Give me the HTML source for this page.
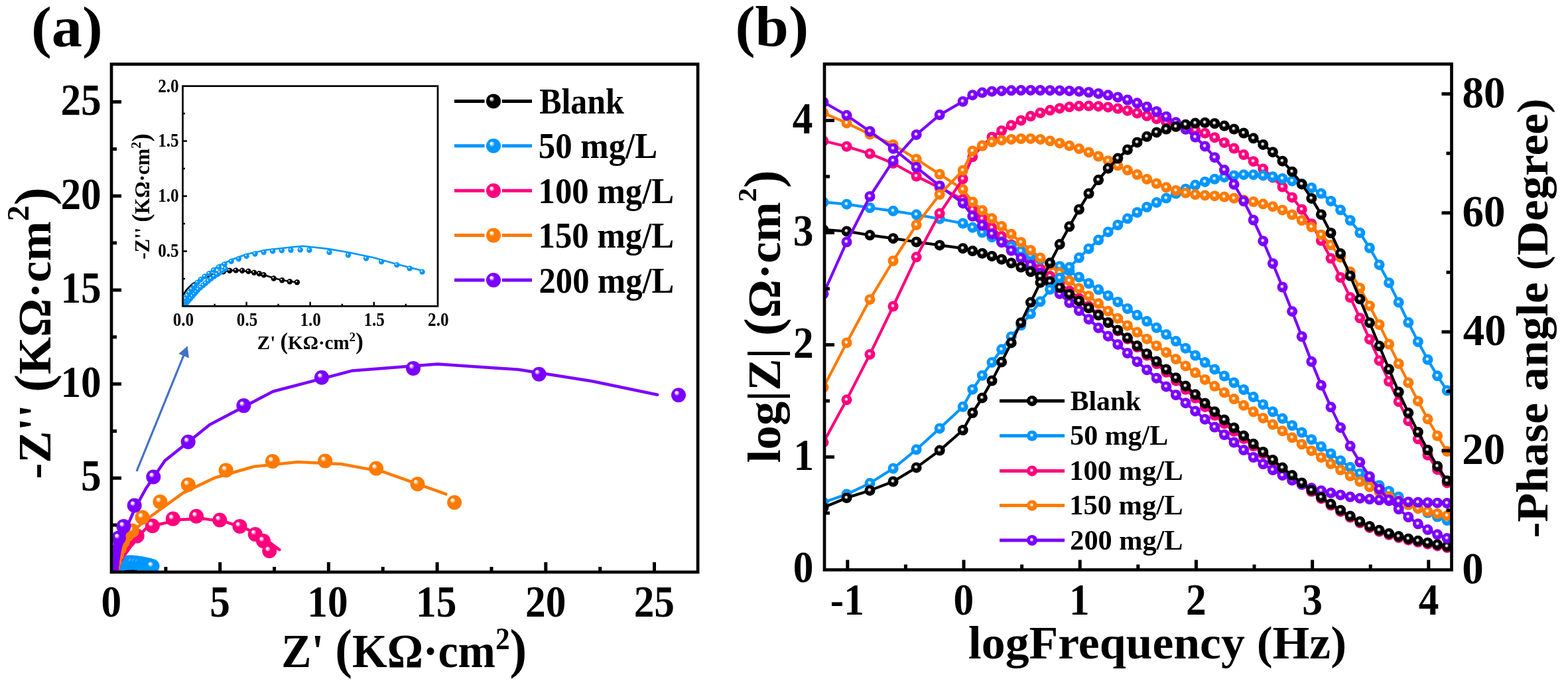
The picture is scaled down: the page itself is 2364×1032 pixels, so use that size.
<!DOCTYPE html>
<html><head><meta charset="utf-8"><title>EIS figure</title>
<style>html,body{margin:0;padding:0;background:#fff;}svg{display:block;filter:blur(0.6px);}</style></head>
<body><svg width="2364" height="1032" viewBox="0 0 2364 1032"><defs><radialGradient id="g_black" cx="0.5" cy="0.5" r="0.5" fx="0.44" fy="0.42"><stop offset="0" stop-color="#fff"/><stop offset="0.14" stop-color="#fff" stop-opacity="0.95"/><stop offset="0.4" stop-color="#000000"/><stop offset="1" stop-color="#000000"/></radialGradient><radialGradient id="ga_black" cx="0.5" cy="0.5" r="0.5" fx="0.33" fy="0.3"><stop offset="0" stop-color="#fff"/><stop offset="0.12" stop-color="#fff" stop-opacity="0.95"/><stop offset="0.38" stop-color="#000000"/><stop offset="1" stop-color="#000000"/></radialGradient><radialGradient id="g_blue" cx="0.5" cy="0.5" r="0.5" fx="0.44" fy="0.42"><stop offset="0" stop-color="#fff"/><stop offset="0.14" stop-color="#fff" stop-opacity="0.95"/><stop offset="0.4" stop-color="#0096FF"/><stop offset="1" stop-color="#0096FF"/></radialGradient><radialGradient id="ga_blue" cx="0.5" cy="0.5" r="0.5" fx="0.33" fy="0.3"><stop offset="0" stop-color="#fff"/><stop offset="0.12" stop-color="#fff" stop-opacity="0.95"/><stop offset="0.38" stop-color="#0096FF"/><stop offset="1" stop-color="#0096FF"/></radialGradient><radialGradient id="g_pink" cx="0.5" cy="0.5" r="0.5" fx="0.44" fy="0.42"><stop offset="0" stop-color="#fff"/><stop offset="0.14" stop-color="#fff" stop-opacity="0.95"/><stop offset="0.4" stop-color="#FF007D"/><stop offset="1" stop-color="#FF007D"/></radialGradient><radialGradient id="ga_pink" cx="0.5" cy="0.5" r="0.5" fx="0.33" fy="0.3"><stop offset="0" stop-color="#fff"/><stop offset="0.12" stop-color="#fff" stop-opacity="0.95"/><stop offset="0.38" stop-color="#FF007D"/><stop offset="1" stop-color="#FF007D"/></radialGradient><radialGradient id="g_orange" cx="0.5" cy="0.5" r="0.5" fx="0.44" fy="0.42"><stop offset="0" stop-color="#fff"/><stop offset="0.14" stop-color="#fff" stop-opacity="0.95"/><stop offset="0.4" stop-color="#FF7A00"/><stop offset="1" stop-color="#FF7A00"/></radialGradient><radialGradient id="ga_orange" cx="0.5" cy="0.5" r="0.5" fx="0.33" fy="0.3"><stop offset="0" stop-color="#fff"/><stop offset="0.12" stop-color="#fff" stop-opacity="0.95"/><stop offset="0.38" stop-color="#FF7A00"/><stop offset="1" stop-color="#FF7A00"/></radialGradient><radialGradient id="g_purple" cx="0.5" cy="0.5" r="0.5" fx="0.44" fy="0.42"><stop offset="0" stop-color="#fff"/><stop offset="0.14" stop-color="#fff" stop-opacity="0.95"/><stop offset="0.4" stop-color="#7B00FF"/><stop offset="1" stop-color="#7B00FF"/></radialGradient><radialGradient id="ga_purple" cx="0.5" cy="0.5" r="0.5" fx="0.33" fy="0.3"><stop offset="0" stop-color="#fff"/><stop offset="0.12" stop-color="#fff" stop-opacity="0.95"/><stop offset="0.38" stop-color="#7B00FF"/><stop offset="1" stop-color="#7B00FF"/></radialGradient></defs><rect width="2364" height="1032" fill="#fff"/><clipPath id="clipa"><rect x="168.0" y="96.7" width="884.0999999999999" height="765.1999999999999"/></clipPath><g clip-path="url(#clipa)"><polyline points="168.0,859.2 169.0,857.7 170.6,856.1 172.9,854.8 175.8,853.9 177.8,853.1 180.0,852.7 181.7,852.6 183.3,852.7 186.3,853.2 188.8,853.8 191.4,854.7 193.5,855.2 195.5,855.5 197.5,855.8" fill="none" stroke="#000000" stroke-width="4.5" stroke-linejoin="round" stroke-linecap="round"/><circle cx="175.8" cy="854.2" r="11" fill="url(#ga_black)"/><circle cx="176.9" cy="853.6" r="11" fill="url(#ga_black)"/><circle cx="178.4" cy="853.0" r="11" fill="url(#ga_black)"/><circle cx="180.0" cy="852.7" r="11" fill="url(#ga_black)"/><circle cx="181.7" cy="852.7" r="11" fill="url(#ga_black)"/><circle cx="183.3" cy="852.7" r="11" fill="url(#ga_black)"/><circle cx="184.9" cy="852.9" r="11" fill="url(#ga_black)"/><circle cx="186.3" cy="853.3" r="11" fill="url(#ga_black)"/><circle cx="187.6" cy="853.5" r="11" fill="url(#ga_black)"/><circle cx="188.8" cy="853.9" r="11" fill="url(#ga_black)"/><circle cx="191.4" cy="854.8" r="11" fill="url(#ga_black)"/><circle cx="193.5" cy="855.2" r="11" fill="url(#ga_black)"/><circle cx="195.5" cy="855.6" r="11" fill="url(#ga_black)"/><circle cx="197.4" cy="855.8" r="11" fill="url(#ga_black)"/><polyline points="168.0,861.9 168.8,860.8 170.0,858.8 171.9,856.2 174.5,853.4 177.3,851.4 181.1,849.7 184.4,848.5 189.3,847.5 196.0,846.7 198.9,846.4 205.3,847.1 210.6,848.0 217.1,849.4 223.0,851.1 229.8,852.8" fill="none" stroke="#0096FF" stroke-width="4.5" stroke-linejoin="round" stroke-linecap="round"/><circle cx="168.3" cy="861.9" r="11" fill="url(#ga_blue)"/><circle cx="168.7" cy="861.5" r="11" fill="url(#ga_blue)"/><circle cx="169.0" cy="861.1" r="11" fill="url(#ga_blue)"/><circle cx="169.5" cy="860.5" r="11" fill="url(#ga_blue)"/><circle cx="170.0" cy="859.9" r="11" fill="url(#ga_blue)"/><circle cx="170.5" cy="859.4" r="11" fill="url(#ga_blue)"/><circle cx="170.9" cy="858.8" r="11" fill="url(#ga_blue)"/><circle cx="171.4" cy="858.2" r="11" fill="url(#ga_blue)"/><circle cx="171.9" cy="857.7" r="11" fill="url(#ga_blue)"/><circle cx="172.6" cy="857.1" r="11" fill="url(#ga_blue)"/><circle cx="173.2" cy="856.5" r="11" fill="url(#ga_blue)"/><circle cx="173.9" cy="856.0" r="11" fill="url(#ga_blue)"/><circle cx="174.5" cy="855.4" r="11" fill="url(#ga_blue)"/><circle cx="175.3" cy="854.8" r="11" fill="url(#ga_blue)"/><circle cx="176.0" cy="854.3" r="11" fill="url(#ga_blue)"/><circle cx="176.7" cy="853.7" r="11" fill="url(#ga_blue)"/><circle cx="177.5" cy="853.3" r="11" fill="url(#ga_blue)"/><circle cx="178.2" cy="852.8" r="11" fill="url(#ga_blue)"/><circle cx="179.0" cy="852.3" r="11" fill="url(#ga_blue)"/><circle cx="168.2" cy="861.3" r="11" fill="url(#ga_blue)"/><circle cx="168.4" cy="860.7" r="11" fill="url(#ga_blue)"/><circle cx="168.7" cy="860.0" r="11" fill="url(#ga_blue)"/><circle cx="169.1" cy="859.2" r="11" fill="url(#ga_blue)"/><circle cx="169.6" cy="858.4" r="11" fill="url(#ga_blue)"/><circle cx="170.2" cy="857.5" r="11" fill="url(#ga_blue)"/><circle cx="170.9" cy="856.7" r="11" fill="url(#ga_blue)"/><circle cx="171.8" cy="855.8" r="11" fill="url(#ga_blue)"/><circle cx="172.6" cy="855.0" r="11" fill="url(#ga_blue)"/><circle cx="173.6" cy="854.3" r="11" fill="url(#ga_blue)"/><circle cx="174.8" cy="853.5" r="11" fill="url(#ga_blue)"/><circle cx="175.9" cy="852.6" r="11" fill="url(#ga_blue)"/><circle cx="177.3" cy="851.8" r="11" fill="url(#ga_blue)"/><circle cx="178.7" cy="851.1" r="11" fill="url(#ga_blue)"/><circle cx="180.5" cy="850.4" r="11" fill="url(#ga_blue)"/><circle cx="182.4" cy="849.7" r="11" fill="url(#ga_blue)"/><circle cx="184.4" cy="849.0" r="11" fill="url(#ga_blue)"/><circle cx="186.6" cy="848.4" r="11" fill="url(#ga_blue)"/><circle cx="188.8" cy="848.0" r="11" fill="url(#ga_blue)"/><circle cx="191.1" cy="847.7" r="11" fill="url(#ga_blue)"/><circle cx="193.4" cy="847.6" r="11" fill="url(#ga_blue)"/><circle cx="195.8" cy="847.5" r="11" fill="url(#ga_blue)"/><circle cx="198.2" cy="847.4" r="11" fill="url(#ga_blue)"/><circle cx="200.5" cy="847.5" r="11" fill="url(#ga_blue)"/><circle cx="205.7" cy="848.0" r="11" fill="url(#ga_blue)"/><circle cx="210.5" cy="848.7" r="11" fill="url(#ga_blue)"/><circle cx="215.1" cy="849.6" r="11" fill="url(#ga_blue)"/><circle cx="219.0" cy="850.5" r="11" fill="url(#ga_blue)"/><circle cx="223.0" cy="851.3" r="11" fill="url(#ga_blue)"/><circle cx="226.3" cy="852.2" r="11" fill="url(#ga_blue)"/><circle cx="229.5" cy="853.1" r="11" fill="url(#ga_blue)"/><polyline points="176.0,862.0 180.0,848.0 186.0,838.0 191.2,831.7 204.0,813.0 220.2,796.0 240.6,789.7 273.4,782.8 308.6,781.6 341.4,786.6 374.1,797.9 399.3,811.8 421.3,828.2" fill="none" stroke="#FF007D" stroke-width="4.5" stroke-linejoin="round" stroke-linecap="round"/><circle cx="169.5" cy="858.0" r="11" fill="url(#ga_pink)"/><circle cx="172.0" cy="848.0" r="11" fill="url(#ga_pink)"/><circle cx="176.0" cy="839.0" r="11" fill="url(#ga_pink)"/><circle cx="181.0" cy="830.0" r="11" fill="url(#ga_pink)"/><circle cx="187.0" cy="822.0" r="11" fill="url(#ga_pink)"/><circle cx="194.0" cy="814.0" r="11" fill="url(#ga_pink)"/><circle cx="206.6" cy="807.4" r="11" fill="url(#ga_pink)"/><circle cx="229.9" cy="792.3" r="11" fill="url(#ga_pink)"/><circle cx="260.8" cy="781.6" r="11" fill="url(#ga_pink)"/><circle cx="296.0" cy="777.8" r="11" fill="url(#ga_pink)"/><circle cx="331.3" cy="783.5" r="11" fill="url(#ga_pink)"/><circle cx="361.5" cy="792.9" r="11" fill="url(#ga_pink)"/><circle cx="384.8" cy="804.9" r="11" fill="url(#ga_pink)"/><circle cx="397.0" cy="815.0" r="11" fill="url(#ga_pink)"/><circle cx="406.2" cy="830.0" r="11" fill="url(#ga_pink)"/><polyline points="176.0,862.0 180.0,845.0 184.0,830.0 188.0,818.0 200.0,800.0 226.9,778.2 276.0,742.6 323.3,720.0 382.6,703.0 448.8,696.0 514.0,699.0 578.0,710.9 672.3,744.4" fill="none" stroke="#FF7A00" stroke-width="4.5" stroke-linejoin="round" stroke-linecap="round"/><circle cx="170.0" cy="856.0" r="11" fill="url(#ga_orange)"/><circle cx="172.5" cy="846.0" r="11" fill="url(#ga_orange)"/><circle cx="176.0" cy="836.0" r="11" fill="url(#ga_orange)"/><circle cx="180.0" cy="826.0" r="11" fill="url(#ga_orange)"/><circle cx="185.0" cy="816.0" r="11" fill="url(#ga_orange)"/><circle cx="191.0" cy="806.0" r="11" fill="url(#ga_orange)"/><circle cx="199.0" cy="799.4" r="11" fill="url(#ga_orange)"/><circle cx="214.6" cy="779.4" r="11" fill="url(#ga_orange)"/><circle cx="241.4" cy="756.0" r="11" fill="url(#ga_orange)"/><circle cx="283.7" cy="730.3" r="11" fill="url(#ga_orange)"/><circle cx="340.7" cy="708.4" r="11" fill="url(#ga_orange)"/><circle cx="410.9" cy="694.9" r="11" fill="url(#ga_orange)"/><circle cx="490.2" cy="694.4" r="11" fill="url(#ga_orange)"/><circle cx="567.1" cy="705.8" r="11" fill="url(#ga_orange)"/><circle cx="629.5" cy="729.2" r="11" fill="url(#ga_orange)"/><circle cx="685.1" cy="757.0" r="11" fill="url(#ga_orange)"/><polyline points="176.0,862.0 178.0,845.0 181.0,828.0 186.0,810.0 193.0,790.0 204.0,765.0 220.0,736.0 248.6,694.0 283.7,666.0 316.3,639.8 411.6,589.8 531.4,558.4 659.5,548.4 781.7,556.7 892.5,574.3 991.2,594.7" fill="none" stroke="#7B00FF" stroke-width="4.5" stroke-linejoin="round" stroke-linecap="round"/><circle cx="168.5" cy="858.0" r="11" fill="url(#ga_purple)"/><circle cx="169.0" cy="849.0" r="11" fill="url(#ga_purple)"/><circle cx="169.5" cy="840.0" r="11" fill="url(#ga_purple)"/><circle cx="170.0" cy="831.0" r="11" fill="url(#ga_purple)"/><circle cx="170.5" cy="822.0" r="11" fill="url(#ga_purple)"/><circle cx="178.9" cy="810.5" r="11" fill="url(#ga_purple)"/><circle cx="186.4" cy="792.9" r="11" fill="url(#ga_purple)"/><circle cx="202.7" cy="761.5" r="11" fill="url(#ga_purple)"/><circle cx="231.3" cy="718.5" r="11" fill="url(#ga_purple)"/><circle cx="283.7" cy="665.7" r="11" fill="url(#ga_purple)"/><circle cx="367.4" cy="611.1" r="11" fill="url(#ga_purple)"/><circle cx="485.0" cy="568.8" r="11" fill="url(#ga_purple)"/><circle cx="623.0" cy="554.9" r="11" fill="url(#ga_purple)"/><circle cx="812.6" cy="563.7" r="11" fill="url(#ga_purple)"/><circle cx="1023.0" cy="595.2" r="11" fill="url(#ga_purple)"/></g><rect x="168.0" y="96.7" width="884.0999999999999" height="765.1999999999999" fill="none" stroke="#000" stroke-width="4.7"/><path d="M249.9,861.9 V853.9 M331.7,861.9 V846.9 M413.6,861.9 V853.9 M495.4,861.9 V846.9 M577.2,861.9 V853.9 M659.1,861.9 V846.9 M741.0,861.9 V853.9 M822.8,861.9 V846.9 M904.7,861.9 V853.9 M986.5,861.9 V846.9 M168.0,791.1 H176.0 M168.0,720.2 H183.0 M168.0,649.4 H176.0 M168.0,578.6 H183.0 M168.0,507.8 H176.0 M168.0,436.9 H183.0 M168.0,366.1 H176.0 M168.0,295.3 H183.0 M168.0,224.5 H176.0 M168.0,153.6 H183.0" stroke="#000" stroke-width="5" fill="none"/><line x1="206" y1="710" x2="278.5" y2="531.5" stroke="#4472C4" stroke-width="3.2"/><polygon points="282.7,521.3 269.3,533 284.9,539.4" fill="#4472C4"/><line x1="685" y1="152.4" x2="730.5" y2="152.4" stroke="#000000" stroke-width="5"/><line x1="757" y1="152.4" x2="802" y2="152.4" stroke="#000000" stroke-width="5"/><circle cx="744.0" cy="152.4" r="11" fill="url(#ga_black)"/><line x1="685" y1="219.8" x2="730.5" y2="219.8" stroke="#0096FF" stroke-width="5"/><line x1="757" y1="219.8" x2="802" y2="219.8" stroke="#0096FF" stroke-width="5"/><circle cx="744.0" cy="219.8" r="11" fill="url(#ga_blue)"/><line x1="685" y1="287.2" x2="730.5" y2="287.2" stroke="#FF007D" stroke-width="5"/><line x1="757" y1="287.2" x2="802" y2="287.2" stroke="#FF007D" stroke-width="5"/><circle cx="744.0" cy="287.2" r="11" fill="url(#ga_pink)"/><line x1="685" y1="354.6" x2="730.5" y2="354.6" stroke="#FF7A00" stroke-width="5"/><line x1="757" y1="354.6" x2="802" y2="354.6" stroke="#FF7A00" stroke-width="5"/><circle cx="744.0" cy="354.6" r="11" fill="url(#ga_orange)"/><line x1="685" y1="422.0" x2="730.5" y2="422.0" stroke="#7B00FF" stroke-width="5"/><line x1="757" y1="422.0" x2="802" y2="422.0" stroke="#7B00FF" stroke-width="5"/><circle cx="744.0" cy="422.0" r="11" fill="url(#ga_purple)"/><rect x="275.5" y="129.7" width="384.5" height="331.6" fill="#fff"/><clipPath id="clipi"><rect x="275.5" y="129.7" width="384.5" height="331.6"/></clipPath><g clip-path="url(#clipi)"><polyline points="275.5,445.5 281.3,436.4 290.9,427.3 304.3,419.9 321.1,414.4 333.2,409.9 346.2,407.7 355.6,407.1 365.1,407.7 383.1,410.6 397.7,414.0 412.7,419.0 425.2,422.0 436.8,424.0 448.5,425.3" fill="none" stroke="#000000" stroke-width="2.6" stroke-linejoin="round" stroke-linecap="round"/><circle cx="321.1" cy="416.0" r="4.2" fill="url(#ga_black)"/><circle cx="328.0" cy="412.7" r="4.2" fill="url(#ga_black)"/><circle cx="336.6" cy="409.4" r="4.2" fill="url(#ga_black)"/><circle cx="346.2" cy="407.7" r="4.2" fill="url(#ga_black)"/><circle cx="355.6" cy="407.4" r="4.2" fill="url(#ga_black)"/><circle cx="365.1" cy="407.7" r="4.2" fill="url(#ga_black)"/><circle cx="374.5" cy="408.7" r="4.2" fill="url(#ga_black)"/><circle cx="383.1" cy="410.7" r="4.2" fill="url(#ga_black)"/><circle cx="390.8" cy="412.2" r="4.2" fill="url(#ga_black)"/><circle cx="397.7" cy="414.2" r="4.2" fill="url(#ga_black)"/><circle cx="412.7" cy="419.5" r="4.2" fill="url(#ga_black)"/><circle cx="425.2" cy="422.3" r="4.2" fill="url(#ga_black)"/><circle cx="436.8" cy="424.3" r="4.2" fill="url(#ga_black)"/><circle cx="447.9" cy="425.3" r="4.2" fill="url(#ga_black)"/><polyline points="275.5,461.3 279.9,455.0 287.0,443.1 298.6,428.1 313.9,411.6 330.1,400.0 352.4,390.0 371.6,383.0 400.4,376.7 440.0,372.3 456.9,370.8 494.2,374.9 525.4,380.2 563.8,388.3 598.2,398.1 638.6,408.2" fill="none" stroke="#0096FF" stroke-width="2.6" stroke-linejoin="round" stroke-linecap="round"/><circle cx="277.4" cy="461.3" r="4.2" fill="url(#ga_blue)"/><circle cx="279.3" cy="458.8" r="4.2" fill="url(#ga_blue)"/><circle cx="281.3" cy="456.3" r="4.2" fill="url(#ga_blue)"/><circle cx="284.1" cy="453.0" r="4.2" fill="url(#ga_blue)"/><circle cx="287.0" cy="449.7" r="4.2" fill="url(#ga_blue)"/><circle cx="289.9" cy="446.4" r="4.2" fill="url(#ga_blue)"/><circle cx="292.8" cy="443.1" r="4.2" fill="url(#ga_blue)"/><circle cx="295.7" cy="439.7" r="4.2" fill="url(#ga_blue)"/><circle cx="298.6" cy="436.4" r="4.2" fill="url(#ga_blue)"/><circle cx="302.4" cy="433.1" r="4.2" fill="url(#ga_blue)"/><circle cx="306.3" cy="429.8" r="4.2" fill="url(#ga_blue)"/><circle cx="310.1" cy="426.5" r="4.2" fill="url(#ga_blue)"/><circle cx="313.9" cy="423.2" r="4.2" fill="url(#ga_blue)"/><circle cx="318.2" cy="419.9" r="4.2" fill="url(#ga_blue)"/><circle cx="322.6" cy="416.5" r="4.2" fill="url(#ga_blue)"/><circle cx="326.8" cy="413.5" r="4.2" fill="url(#ga_blue)"/><circle cx="331.2" cy="410.7" r="4.2" fill="url(#ga_blue)"/><circle cx="335.5" cy="407.9" r="4.2" fill="url(#ga_blue)"/><circle cx="339.9" cy="404.9" r="4.2" fill="url(#ga_blue)"/><circle cx="276.7" cy="458.0" r="4.2" fill="url(#ga_blue)"/><circle cx="277.8" cy="454.3" r="4.2" fill="url(#ga_blue)"/><circle cx="279.7" cy="450.0" r="4.2" fill="url(#ga_blue)"/><circle cx="282.2" cy="445.5" r="4.2" fill="url(#ga_blue)"/><circle cx="285.1" cy="440.6" r="4.2" fill="url(#ga_blue)"/><circle cx="288.6" cy="435.6" r="4.2" fill="url(#ga_blue)"/><circle cx="292.8" cy="430.6" r="4.2" fill="url(#ga_blue)"/><circle cx="297.6" cy="425.7" r="4.2" fill="url(#ga_blue)"/><circle cx="302.8" cy="421.0" r="4.2" fill="url(#ga_blue)"/><circle cx="308.6" cy="416.5" r="4.2" fill="url(#ga_blue)"/><circle cx="315.3" cy="412.1" r="4.2" fill="url(#ga_blue)"/><circle cx="322.0" cy="406.9" r="4.2" fill="url(#ga_blue)"/><circle cx="329.9" cy="402.4" r="4.2" fill="url(#ga_blue)"/><circle cx="338.5" cy="398.1" r="4.2" fill="url(#ga_blue)"/><circle cx="348.7" cy="393.8" r="4.2" fill="url(#ga_blue)"/><circle cx="359.9" cy="390.0" r="4.2" fill="url(#ga_blue)"/><circle cx="371.6" cy="385.9" r="4.2" fill="url(#ga_blue)"/><circle cx="384.5" cy="382.5" r="4.2" fill="url(#ga_blue)"/><circle cx="397.7" cy="380.1" r="4.2" fill="url(#ga_blue)"/><circle cx="411.2" cy="378.4" r="4.2" fill="url(#ga_blue)"/><circle cx="424.8" cy="377.4" r="4.2" fill="url(#ga_blue)"/><circle cx="438.5" cy="376.7" r="4.2" fill="url(#ga_blue)"/><circle cx="452.7" cy="376.4" r="4.2" fill="url(#ga_blue)"/><circle cx="466.4" cy="376.7" r="4.2" fill="url(#ga_blue)"/><circle cx="496.5" cy="380.1" r="4.2" fill="url(#ga_blue)"/><circle cx="525.0" cy="384.2" r="4.2" fill="url(#ga_blue)"/><circle cx="552.1" cy="389.3" r="4.2" fill="url(#ga_blue)"/><circle cx="575.1" cy="394.3" r="4.2" fill="url(#ga_blue)"/><circle cx="598.2" cy="399.1" r="4.2" fill="url(#ga_blue)"/><circle cx="617.6" cy="404.4" r="4.2" fill="url(#ga_blue)"/><circle cx="636.6" cy="409.6" r="4.2" fill="url(#ga_blue)"/></g><rect x="275.5" y="129.7" width="384.5" height="331.6" fill="none" stroke="#000" stroke-width="2.7"/><path d="M323.6,461.3 V457.8 M275.5,419.9 H279.0 M371.6,461.3 V454.8 M275.5,378.4 H282.0 M419.6,461.3 V457.8 M275.5,336.9 H279.0 M467.7,461.3 V454.8 M275.5,295.5 H282.0 M515.8,461.3 V457.8 M275.5,254.1 H279.0 M563.8,461.3 V454.8 M275.5,212.6 H282.0 M611.8,461.3 V457.8 M275.5,171.1 H279.0" stroke="#000" stroke-width="2.5" fill="none"/><clipPath id="clipb"><rect x="1243.0" y="96.5" width="945.5" height="762.0"/></clipPath><g clip-path="url(#clipb)"><polyline points="1241.5,212.3 1276.5,220.7 1311.5,231.6 1346.6,246.0 1381.6,265.5 1416.7,282.8 1451.7,300.1 1466.3,315.8 1480.9,329.5 1495.5,343.1 1510.1,356.1 1524.7,368.7 1539.3,381.2 1553.9,393.4 1568.5,404.9 1583.1,416.1 1597.7,427.2 1612.3,438.2 1626.9,449.5 1641.5,461.3 1656.1,473.7 1670.7,486.2 1685.3,498.5 1699.9,510.7 1714.5,523.1 1729.1,535.6 1743.7,548.1 1758.3,560.8 1772.9,573.7 1787.5,586.8 1802.1,599.8 1816.7,612.9 1831.3,625.8 1845.9,638.2 1860.5,649.8 1875.1,660.9 1889.7,672.1 1904.3,683.6 1918.9,695.2 1933.5,706.7 1948.1,718.1 1962.7,729.4 1977.3,740.5 1991.9,751.2 2006.5,761.3 2021.1,770.7 2035.7,779.6 2050.3,787.8 2064.9,794.9 2079.5,800.8 2094.1,805.8 2108.7,810.1 2123.3,813.7 2137.9,816.8 2152.5,819.7 2167.1,822.4 2181.7,825.1" fill="none" stroke="#FF007D" stroke-width="4.2" stroke-linejoin="round" stroke-linecap="round"/><circle cx="1241.5" cy="212.3" r="8" fill="url(#g_pink)"/><circle cx="1276.5" cy="220.7" r="8" fill="url(#g_pink)"/><circle cx="1311.5" cy="231.6" r="8" fill="url(#g_pink)"/><circle cx="1346.6" cy="246.0" r="8" fill="url(#g_pink)"/><circle cx="1381.6" cy="265.5" r="8" fill="url(#g_pink)"/><circle cx="1416.7" cy="282.8" r="8" fill="url(#g_pink)"/><circle cx="1451.7" cy="300.1" r="8" fill="url(#g_pink)"/><circle cx="1466.3" cy="315.8" r="8" fill="url(#g_pink)"/><circle cx="1480.9" cy="329.5" r="8" fill="url(#g_pink)"/><circle cx="1495.5" cy="343.1" r="8" fill="url(#g_pink)"/><circle cx="1510.1" cy="356.1" r="8" fill="url(#g_pink)"/><circle cx="1524.7" cy="368.7" r="8" fill="url(#g_pink)"/><circle cx="1539.3" cy="381.2" r="8" fill="url(#g_pink)"/><circle cx="1553.9" cy="393.4" r="8" fill="url(#g_pink)"/><circle cx="1568.5" cy="404.9" r="8" fill="url(#g_pink)"/><circle cx="1583.1" cy="416.1" r="8" fill="url(#g_pink)"/><circle cx="1597.7" cy="427.2" r="8" fill="url(#g_pink)"/><circle cx="1612.3" cy="438.2" r="8" fill="url(#g_pink)"/><circle cx="1626.9" cy="449.5" r="8" fill="url(#g_pink)"/><circle cx="1641.5" cy="461.3" r="8" fill="url(#g_pink)"/><circle cx="1656.1" cy="473.7" r="8" fill="url(#g_pink)"/><circle cx="1670.7" cy="486.2" r="8" fill="url(#g_pink)"/><circle cx="1685.3" cy="498.5" r="8" fill="url(#g_pink)"/><circle cx="1699.9" cy="510.7" r="8" fill="url(#g_pink)"/><circle cx="1714.5" cy="523.1" r="8" fill="url(#g_pink)"/><circle cx="1729.1" cy="535.6" r="8" fill="url(#g_pink)"/><circle cx="1743.7" cy="548.1" r="8" fill="url(#g_pink)"/><circle cx="1758.3" cy="560.8" r="8" fill="url(#g_pink)"/><circle cx="1772.9" cy="573.7" r="8" fill="url(#g_pink)"/><circle cx="1787.5" cy="586.8" r="8" fill="url(#g_pink)"/><circle cx="1802.1" cy="599.8" r="8" fill="url(#g_pink)"/><circle cx="1816.7" cy="612.9" r="8" fill="url(#g_pink)"/><circle cx="1831.3" cy="625.8" r="8" fill="url(#g_pink)"/><circle cx="1845.9" cy="638.2" r="8" fill="url(#g_pink)"/><circle cx="1860.5" cy="649.8" r="8" fill="url(#g_pink)"/><circle cx="1875.1" cy="660.9" r="8" fill="url(#g_pink)"/><circle cx="1889.7" cy="672.1" r="8" fill="url(#g_pink)"/><circle cx="1904.3" cy="683.6" r="8" fill="url(#g_pink)"/><circle cx="1918.9" cy="695.2" r="8" fill="url(#g_pink)"/><circle cx="1933.5" cy="706.7" r="8" fill="url(#g_pink)"/><circle cx="1948.1" cy="718.1" r="8" fill="url(#g_pink)"/><circle cx="1962.7" cy="729.4" r="8" fill="url(#g_pink)"/><circle cx="1977.3" cy="740.5" r="8" fill="url(#g_pink)"/><circle cx="1991.9" cy="751.2" r="8" fill="url(#g_pink)"/><circle cx="2006.5" cy="761.3" r="8" fill="url(#g_pink)"/><circle cx="2021.1" cy="770.7" r="8" fill="url(#g_pink)"/><circle cx="2035.7" cy="779.6" r="8" fill="url(#g_pink)"/><circle cx="2050.3" cy="787.8" r="8" fill="url(#g_pink)"/><circle cx="2064.9" cy="794.9" r="8" fill="url(#g_pink)"/><circle cx="2079.5" cy="800.8" r="8" fill="url(#g_pink)"/><circle cx="2094.1" cy="805.8" r="8" fill="url(#g_pink)"/><circle cx="2108.7" cy="810.1" r="8" fill="url(#g_pink)"/><circle cx="2123.3" cy="813.7" r="8" fill="url(#g_pink)"/><circle cx="2137.9" cy="816.8" r="8" fill="url(#g_pink)"/><circle cx="2152.5" cy="819.7" r="8" fill="url(#g_pink)"/><circle cx="2167.1" cy="822.4" r="8" fill="url(#g_pink)"/><circle cx="2181.7" cy="825.1" r="8" fill="url(#g_pink)"/><polyline points="1241.5,304.6 1276.5,307.7 1311.5,313.0 1346.6,317.8 1381.6,323.3 1416.7,329.7 1451.7,336.5 1466.3,342.8 1480.9,350.3 1495.5,357.3 1510.1,364.2 1524.7,371.1 1539.3,378.2 1553.9,385.0 1568.5,391.1 1583.1,396.1 1597.7,401.2 1612.3,408.3 1626.9,417.4 1641.5,427.0 1656.1,436.3 1670.7,445.4 1685.3,454.9 1699.9,465.0 1714.5,474.8 1729.1,484.1 1743.7,493.8 1758.3,503.9 1772.9,514.1 1787.5,524.7 1802.1,535.5 1816.7,546.1 1831.3,556.4 1845.9,566.5 1860.5,576.5 1875.1,587.0 1889.7,598.1 1904.3,609.4 1918.9,620.3 1933.5,630.6 1948.1,641.0 1962.7,651.6 1977.3,662.2 1991.9,672.8 2006.5,683.5 2021.1,694.1 2035.7,704.1 2050.3,713.4 2064.9,722.4 2079.5,731.2 2094.1,740.0 2108.7,748.5 2123.3,757.2 2137.9,765.5 2152.5,772.6 2167.1,778.6 2181.7,784.0" fill="none" stroke="#0096FF" stroke-width="4.2" stroke-linejoin="round" stroke-linecap="round"/><circle cx="1241.5" cy="304.6" r="8" fill="url(#g_blue)"/><circle cx="1276.5" cy="307.7" r="8" fill="url(#g_blue)"/><circle cx="1311.5" cy="313.0" r="8" fill="url(#g_blue)"/><circle cx="1346.6" cy="317.8" r="8" fill="url(#g_blue)"/><circle cx="1381.6" cy="323.3" r="8" fill="url(#g_blue)"/><circle cx="1416.7" cy="329.7" r="8" fill="url(#g_blue)"/><circle cx="1451.7" cy="336.5" r="8" fill="url(#g_blue)"/><circle cx="1466.3" cy="342.8" r="8" fill="url(#g_blue)"/><circle cx="1480.9" cy="350.3" r="8" fill="url(#g_blue)"/><circle cx="1495.5" cy="357.3" r="8" fill="url(#g_blue)"/><circle cx="1510.1" cy="364.2" r="8" fill="url(#g_blue)"/><circle cx="1524.7" cy="371.1" r="8" fill="url(#g_blue)"/><circle cx="1539.3" cy="378.2" r="8" fill="url(#g_blue)"/><circle cx="1553.9" cy="385.0" r="8" fill="url(#g_blue)"/><circle cx="1568.5" cy="391.1" r="8" fill="url(#g_blue)"/><circle cx="1583.1" cy="396.1" r="8" fill="url(#g_blue)"/><circle cx="1597.7" cy="401.2" r="8" fill="url(#g_blue)"/><circle cx="1612.3" cy="408.3" r="8" fill="url(#g_blue)"/><circle cx="1626.9" cy="417.4" r="8" fill="url(#g_blue)"/><circle cx="1641.5" cy="427.0" r="8" fill="url(#g_blue)"/><circle cx="1656.1" cy="436.3" r="8" fill="url(#g_blue)"/><circle cx="1670.7" cy="445.4" r="8" fill="url(#g_blue)"/><circle cx="1685.3" cy="454.9" r="8" fill="url(#g_blue)"/><circle cx="1699.9" cy="465.0" r="8" fill="url(#g_blue)"/><circle cx="1714.5" cy="474.8" r="8" fill="url(#g_blue)"/><circle cx="1729.1" cy="484.1" r="8" fill="url(#g_blue)"/><circle cx="1743.7" cy="493.8" r="8" fill="url(#g_blue)"/><circle cx="1758.3" cy="503.9" r="8" fill="url(#g_blue)"/><circle cx="1772.9" cy="514.1" r="8" fill="url(#g_blue)"/><circle cx="1787.5" cy="524.7" r="8" fill="url(#g_blue)"/><circle cx="1802.1" cy="535.5" r="8" fill="url(#g_blue)"/><circle cx="1816.7" cy="546.1" r="8" fill="url(#g_blue)"/><circle cx="1831.3" cy="556.4" r="8" fill="url(#g_blue)"/><circle cx="1845.9" cy="566.5" r="8" fill="url(#g_blue)"/><circle cx="1860.5" cy="576.5" r="8" fill="url(#g_blue)"/><circle cx="1875.1" cy="587.0" r="8" fill="url(#g_blue)"/><circle cx="1889.7" cy="598.1" r="8" fill="url(#g_blue)"/><circle cx="1904.3" cy="609.4" r="8" fill="url(#g_blue)"/><circle cx="1918.9" cy="620.3" r="8" fill="url(#g_blue)"/><circle cx="1933.5" cy="630.6" r="8" fill="url(#g_blue)"/><circle cx="1948.1" cy="641.0" r="8" fill="url(#g_blue)"/><circle cx="1962.7" cy="651.6" r="8" fill="url(#g_blue)"/><circle cx="1977.3" cy="662.2" r="8" fill="url(#g_blue)"/><circle cx="1991.9" cy="672.8" r="8" fill="url(#g_blue)"/><circle cx="2006.5" cy="683.5" r="8" fill="url(#g_blue)"/><circle cx="2021.1" cy="694.1" r="8" fill="url(#g_blue)"/><circle cx="2035.7" cy="704.1" r="8" fill="url(#g_blue)"/><circle cx="2050.3" cy="713.4" r="8" fill="url(#g_blue)"/><circle cx="2064.9" cy="722.4" r="8" fill="url(#g_blue)"/><circle cx="2079.5" cy="731.2" r="8" fill="url(#g_blue)"/><circle cx="2094.1" cy="740.0" r="8" fill="url(#g_blue)"/><circle cx="2108.7" cy="748.5" r="8" fill="url(#g_blue)"/><circle cx="2123.3" cy="757.2" r="8" fill="url(#g_blue)"/><circle cx="2137.9" cy="765.5" r="8" fill="url(#g_blue)"/><circle cx="2152.5" cy="772.6" r="8" fill="url(#g_blue)"/><circle cx="2167.1" cy="778.6" r="8" fill="url(#g_blue)"/><circle cx="2181.7" cy="784.0" r="8" fill="url(#g_blue)"/><polyline points="1241.5,170.1 1276.5,185.4 1311.5,202.4 1346.6,218.0 1381.6,239.7 1416.7,262.5 1451.7,285.3 1466.3,304.2 1480.9,316.9 1495.5,329.1 1510.1,340.9 1524.7,352.8 1539.3,365.0 1553.9,376.9 1568.5,388.4 1583.1,399.7 1597.7,411.3 1612.3,423.1 1626.9,434.6 1641.5,445.9 1656.1,457.3 1670.7,468.7 1685.3,479.7 1699.9,490.4 1714.5,500.6 1729.1,510.7 1743.7,520.9 1758.3,530.9 1772.9,541.1 1787.5,551.4 1802.1,561.6 1816.7,571.9 1831.3,581.8 1845.9,591.4 1860.5,601.1 1875.1,610.8 1889.7,620.3 1904.3,629.9 1918.9,639.6 1933.5,649.3 1948.1,659.3 1962.7,669.3 1977.3,679.2 1991.9,689.2 2006.5,698.8 2021.1,708.0 2035.7,717.0 2050.3,725.5 2064.9,733.5 2079.5,741.1 2094.1,748.1 2108.7,754.6 2123.3,760.6 2137.9,766.1 2152.5,770.6 2167.1,774.0 2181.7,776.8" fill="none" stroke="#FF7A00" stroke-width="4.2" stroke-linejoin="round" stroke-linecap="round"/><circle cx="1241.5" cy="170.1" r="8" fill="url(#g_orange)"/><circle cx="1276.5" cy="185.4" r="8" fill="url(#g_orange)"/><circle cx="1311.5" cy="202.4" r="8" fill="url(#g_orange)"/><circle cx="1346.6" cy="218.0" r="8" fill="url(#g_orange)"/><circle cx="1381.6" cy="239.7" r="8" fill="url(#g_orange)"/><circle cx="1416.7" cy="262.5" r="8" fill="url(#g_orange)"/><circle cx="1451.7" cy="285.3" r="8" fill="url(#g_orange)"/><circle cx="1466.3" cy="304.2" r="8" fill="url(#g_orange)"/><circle cx="1480.9" cy="316.9" r="8" fill="url(#g_orange)"/><circle cx="1495.5" cy="329.1" r="8" fill="url(#g_orange)"/><circle cx="1510.1" cy="340.9" r="8" fill="url(#g_orange)"/><circle cx="1524.7" cy="352.8" r="8" fill="url(#g_orange)"/><circle cx="1539.3" cy="365.0" r="8" fill="url(#g_orange)"/><circle cx="1553.9" cy="376.9" r="8" fill="url(#g_orange)"/><circle cx="1568.5" cy="388.4" r="8" fill="url(#g_orange)"/><circle cx="1583.1" cy="399.7" r="8" fill="url(#g_orange)"/><circle cx="1597.7" cy="411.3" r="8" fill="url(#g_orange)"/><circle cx="1612.3" cy="423.1" r="8" fill="url(#g_orange)"/><circle cx="1626.9" cy="434.6" r="8" fill="url(#g_orange)"/><circle cx="1641.5" cy="445.9" r="8" fill="url(#g_orange)"/><circle cx="1656.1" cy="457.3" r="8" fill="url(#g_orange)"/><circle cx="1670.7" cy="468.7" r="8" fill="url(#g_orange)"/><circle cx="1685.3" cy="479.7" r="8" fill="url(#g_orange)"/><circle cx="1699.9" cy="490.4" r="8" fill="url(#g_orange)"/><circle cx="1714.5" cy="500.6" r="8" fill="url(#g_orange)"/><circle cx="1729.1" cy="510.7" r="8" fill="url(#g_orange)"/><circle cx="1743.7" cy="520.9" r="8" fill="url(#g_orange)"/><circle cx="1758.3" cy="530.9" r="8" fill="url(#g_orange)"/><circle cx="1772.9" cy="541.1" r="8" fill="url(#g_orange)"/><circle cx="1787.5" cy="551.4" r="8" fill="url(#g_orange)"/><circle cx="1802.1" cy="561.6" r="8" fill="url(#g_orange)"/><circle cx="1816.7" cy="571.9" r="8" fill="url(#g_orange)"/><circle cx="1831.3" cy="581.8" r="8" fill="url(#g_orange)"/><circle cx="1845.9" cy="591.4" r="8" fill="url(#g_orange)"/><circle cx="1860.5" cy="601.1" r="8" fill="url(#g_orange)"/><circle cx="1875.1" cy="610.8" r="8" fill="url(#g_orange)"/><circle cx="1889.7" cy="620.3" r="8" fill="url(#g_orange)"/><circle cx="1904.3" cy="629.9" r="8" fill="url(#g_orange)"/><circle cx="1918.9" cy="639.6" r="8" fill="url(#g_orange)"/><circle cx="1933.5" cy="649.3" r="8" fill="url(#g_orange)"/><circle cx="1948.1" cy="659.3" r="8" fill="url(#g_orange)"/><circle cx="1962.7" cy="669.3" r="8" fill="url(#g_orange)"/><circle cx="1977.3" cy="679.2" r="8" fill="url(#g_orange)"/><circle cx="1991.9" cy="689.2" r="8" fill="url(#g_orange)"/><circle cx="2006.5" cy="698.8" r="8" fill="url(#g_orange)"/><circle cx="2021.1" cy="708.0" r="8" fill="url(#g_orange)"/><circle cx="2035.7" cy="717.0" r="8" fill="url(#g_orange)"/><circle cx="2050.3" cy="725.5" r="8" fill="url(#g_orange)"/><circle cx="2064.9" cy="733.5" r="8" fill="url(#g_orange)"/><circle cx="2079.5" cy="741.1" r="8" fill="url(#g_orange)"/><circle cx="2094.1" cy="748.1" r="8" fill="url(#g_orange)"/><circle cx="2108.7" cy="754.6" r="8" fill="url(#g_orange)"/><circle cx="2123.3" cy="760.6" r="8" fill="url(#g_orange)"/><circle cx="2137.9" cy="766.1" r="8" fill="url(#g_orange)"/><circle cx="2152.5" cy="770.6" r="8" fill="url(#g_orange)"/><circle cx="2167.1" cy="774.0" r="8" fill="url(#g_orange)"/><circle cx="2181.7" cy="776.8" r="8" fill="url(#g_orange)"/><polyline points="1241.5,153.8 1276.5,173.8 1311.5,197.9 1346.6,223.8 1381.6,252.1 1416.7,280.0 1451.7,306.2 1466.3,325.8 1480.9,339.5 1495.5,352.5 1510.1,365.2 1524.7,377.6 1539.3,389.1 1553.9,399.6 1568.5,411.3 1583.1,426.6 1597.7,442.7 1612.3,456.0 1626.9,468.0 1641.5,480.9 1656.1,493.9 1670.7,506.4 1685.3,518.9 1699.9,532.0 1714.5,544.9 1729.1,557.2 1743.7,569.7 1758.3,582.4 1772.9,595.0 1787.5,607.2 1802.1,619.4 1816.7,631.7 1831.3,643.5 1845.9,655.0 1860.5,666.6 1875.1,678.1 1889.7,689.0 1904.3,699.1 1918.9,708.0 1933.5,716.1 1948.1,723.5 1962.7,730.1 1977.3,735.3 1991.9,739.2 2006.5,742.6 2021.1,745.7 2035.7,748.6 2050.3,750.7 2064.9,752.1 2079.5,753.3 2094.1,754.4 2108.7,755.3 2123.3,756.2 2137.9,756.8 2152.5,757.2 2167.1,757.7 2181.7,758.1" fill="none" stroke="#7B00FF" stroke-width="4.2" stroke-linejoin="round" stroke-linecap="round"/><circle cx="1241.5" cy="153.8" r="8" fill="url(#g_purple)"/><circle cx="1276.5" cy="173.8" r="8" fill="url(#g_purple)"/><circle cx="1311.5" cy="197.9" r="8" fill="url(#g_purple)"/><circle cx="1346.6" cy="223.8" r="8" fill="url(#g_purple)"/><circle cx="1381.6" cy="252.1" r="8" fill="url(#g_purple)"/><circle cx="1416.7" cy="280.0" r="8" fill="url(#g_purple)"/><circle cx="1451.7" cy="306.2" r="8" fill="url(#g_purple)"/><circle cx="1466.3" cy="325.8" r="8" fill="url(#g_purple)"/><circle cx="1480.9" cy="339.5" r="8" fill="url(#g_purple)"/><circle cx="1495.5" cy="352.5" r="8" fill="url(#g_purple)"/><circle cx="1510.1" cy="365.2" r="8" fill="url(#g_purple)"/><circle cx="1524.7" cy="377.6" r="8" fill="url(#g_purple)"/><circle cx="1539.3" cy="389.1" r="8" fill="url(#g_purple)"/><circle cx="1553.9" cy="399.6" r="8" fill="url(#g_purple)"/><circle cx="1568.5" cy="411.3" r="8" fill="url(#g_purple)"/><circle cx="1583.1" cy="426.6" r="8" fill="url(#g_purple)"/><circle cx="1597.7" cy="442.7" r="8" fill="url(#g_purple)"/><circle cx="1612.3" cy="456.0" r="8" fill="url(#g_purple)"/><circle cx="1626.9" cy="468.0" r="8" fill="url(#g_purple)"/><circle cx="1641.5" cy="480.9" r="8" fill="url(#g_purple)"/><circle cx="1656.1" cy="493.9" r="8" fill="url(#g_purple)"/><circle cx="1670.7" cy="506.4" r="8" fill="url(#g_purple)"/><circle cx="1685.3" cy="518.9" r="8" fill="url(#g_purple)"/><circle cx="1699.9" cy="532.0" r="8" fill="url(#g_purple)"/><circle cx="1714.5" cy="544.9" r="8" fill="url(#g_purple)"/><circle cx="1729.1" cy="557.2" r="8" fill="url(#g_purple)"/><circle cx="1743.7" cy="569.7" r="8" fill="url(#g_purple)"/><circle cx="1758.3" cy="582.4" r="8" fill="url(#g_purple)"/><circle cx="1772.9" cy="595.0" r="8" fill="url(#g_purple)"/><circle cx="1787.5" cy="607.2" r="8" fill="url(#g_purple)"/><circle cx="1802.1" cy="619.4" r="8" fill="url(#g_purple)"/><circle cx="1816.7" cy="631.7" r="8" fill="url(#g_purple)"/><circle cx="1831.3" cy="643.5" r="8" fill="url(#g_purple)"/><circle cx="1845.9" cy="655.0" r="8" fill="url(#g_purple)"/><circle cx="1860.5" cy="666.6" r="8" fill="url(#g_purple)"/><circle cx="1875.1" cy="678.1" r="8" fill="url(#g_purple)"/><circle cx="1889.7" cy="689.0" r="8" fill="url(#g_purple)"/><circle cx="1904.3" cy="699.1" r="8" fill="url(#g_purple)"/><circle cx="1918.9" cy="708.0" r="8" fill="url(#g_purple)"/><circle cx="1933.5" cy="716.1" r="8" fill="url(#g_purple)"/><circle cx="1948.1" cy="723.5" r="8" fill="url(#g_purple)"/><circle cx="1962.7" cy="730.1" r="8" fill="url(#g_purple)"/><circle cx="1977.3" cy="735.3" r="8" fill="url(#g_purple)"/><circle cx="1991.9" cy="739.2" r="8" fill="url(#g_purple)"/><circle cx="2006.5" cy="742.6" r="8" fill="url(#g_purple)"/><circle cx="2021.1" cy="745.7" r="8" fill="url(#g_purple)"/><circle cx="2035.7" cy="748.6" r="8" fill="url(#g_purple)"/><circle cx="2050.3" cy="750.7" r="8" fill="url(#g_purple)"/><circle cx="2064.9" cy="752.1" r="8" fill="url(#g_purple)"/><circle cx="2079.5" cy="753.3" r="8" fill="url(#g_purple)"/><circle cx="2094.1" cy="754.4" r="8" fill="url(#g_purple)"/><circle cx="2108.7" cy="755.3" r="8" fill="url(#g_purple)"/><circle cx="2123.3" cy="756.2" r="8" fill="url(#g_purple)"/><circle cx="2137.9" cy="756.8" r="8" fill="url(#g_purple)"/><circle cx="2152.5" cy="757.2" r="8" fill="url(#g_purple)"/><circle cx="2167.1" cy="757.7" r="8" fill="url(#g_purple)"/><circle cx="2181.7" cy="758.1" r="8" fill="url(#g_purple)"/><polyline points="1241.5,346.1 1276.5,348.4 1311.5,354.3 1346.6,359.2 1381.6,364.5 1416.7,369.4 1451.7,374.2 1466.3,378.1 1480.9,381.7 1495.5,385.9 1510.1,390.7 1524.7,396.3 1539.3,402.5 1553.9,409.3 1568.5,416.5 1583.1,424.2 1597.7,433.3 1612.3,443.3 1626.9,453.6 1641.5,464.0 1656.1,474.8 1670.7,485.9 1685.3,497.4 1699.9,509.1 1714.5,521.1 1729.1,532.9 1743.7,544.4 1758.3,556.5 1772.9,569.2 1787.5,581.6 1802.1,594.3 1816.7,607.4 1831.3,620.2 1845.9,632.5 1860.5,644.5 1875.1,656.6 1889.7,668.8 1904.3,681.0 1918.9,692.9 1933.5,704.6 1948.1,716.1 1962.7,727.4 1977.3,738.5 1991.9,749.2 2006.5,759.3 2021.1,768.7 2035.7,777.6 2050.3,785.8 2064.9,792.9 2079.5,798.8 2094.1,803.8 2108.7,808.1 2123.3,811.7 2137.9,814.8 2152.5,817.7 2167.1,820.4 2181.7,823.1" fill="none" stroke="#000000" stroke-width="4.2" stroke-linejoin="round" stroke-linecap="round"/><circle cx="1241.5" cy="346.1" r="8" fill="url(#g_black)"/><circle cx="1276.5" cy="348.4" r="8" fill="url(#g_black)"/><circle cx="1311.5" cy="354.3" r="8" fill="url(#g_black)"/><circle cx="1346.6" cy="359.2" r="8" fill="url(#g_black)"/><circle cx="1381.6" cy="364.5" r="8" fill="url(#g_black)"/><circle cx="1416.7" cy="369.4" r="8" fill="url(#g_black)"/><circle cx="1451.7" cy="374.2" r="8" fill="url(#g_black)"/><circle cx="1466.3" cy="378.1" r="8" fill="url(#g_black)"/><circle cx="1480.9" cy="381.7" r="8" fill="url(#g_black)"/><circle cx="1495.5" cy="385.9" r="8" fill="url(#g_black)"/><circle cx="1510.1" cy="390.7" r="8" fill="url(#g_black)"/><circle cx="1524.7" cy="396.3" r="8" fill="url(#g_black)"/><circle cx="1539.3" cy="402.5" r="8" fill="url(#g_black)"/><circle cx="1553.9" cy="409.3" r="8" fill="url(#g_black)"/><circle cx="1568.5" cy="416.5" r="8" fill="url(#g_black)"/><circle cx="1583.1" cy="424.2" r="8" fill="url(#g_black)"/><circle cx="1597.7" cy="433.3" r="8" fill="url(#g_black)"/><circle cx="1612.3" cy="443.3" r="8" fill="url(#g_black)"/><circle cx="1626.9" cy="453.6" r="8" fill="url(#g_black)"/><circle cx="1641.5" cy="464.0" r="8" fill="url(#g_black)"/><circle cx="1656.1" cy="474.8" r="8" fill="url(#g_black)"/><circle cx="1670.7" cy="485.9" r="8" fill="url(#g_black)"/><circle cx="1685.3" cy="497.4" r="8" fill="url(#g_black)"/><circle cx="1699.9" cy="509.1" r="8" fill="url(#g_black)"/><circle cx="1714.5" cy="521.1" r="8" fill="url(#g_black)"/><circle cx="1729.1" cy="532.9" r="8" fill="url(#g_black)"/><circle cx="1743.7" cy="544.4" r="8" fill="url(#g_black)"/><circle cx="1758.3" cy="556.5" r="8" fill="url(#g_black)"/><circle cx="1772.9" cy="569.2" r="8" fill="url(#g_black)"/><circle cx="1787.5" cy="581.6" r="8" fill="url(#g_black)"/><circle cx="1802.1" cy="594.3" r="8" fill="url(#g_black)"/><circle cx="1816.7" cy="607.4" r="8" fill="url(#g_black)"/><circle cx="1831.3" cy="620.2" r="8" fill="url(#g_black)"/><circle cx="1845.9" cy="632.5" r="8" fill="url(#g_black)"/><circle cx="1860.5" cy="644.5" r="8" fill="url(#g_black)"/><circle cx="1875.1" cy="656.6" r="8" fill="url(#g_black)"/><circle cx="1889.7" cy="668.8" r="8" fill="url(#g_black)"/><circle cx="1904.3" cy="681.0" r="8" fill="url(#g_black)"/><circle cx="1918.9" cy="692.9" r="8" fill="url(#g_black)"/><circle cx="1933.5" cy="704.6" r="8" fill="url(#g_black)"/><circle cx="1948.1" cy="716.1" r="8" fill="url(#g_black)"/><circle cx="1962.7" cy="727.4" r="8" fill="url(#g_black)"/><circle cx="1977.3" cy="738.5" r="8" fill="url(#g_black)"/><circle cx="1991.9" cy="749.2" r="8" fill="url(#g_black)"/><circle cx="2006.5" cy="759.3" r="8" fill="url(#g_black)"/><circle cx="2021.1" cy="768.7" r="8" fill="url(#g_black)"/><circle cx="2035.7" cy="777.6" r="8" fill="url(#g_black)"/><circle cx="2050.3" cy="785.8" r="8" fill="url(#g_black)"/><circle cx="2064.9" cy="792.9" r="8" fill="url(#g_black)"/><circle cx="2079.5" cy="798.8" r="8" fill="url(#g_black)"/><circle cx="2094.1" cy="803.8" r="8" fill="url(#g_black)"/><circle cx="2108.7" cy="808.1" r="8" fill="url(#g_black)"/><circle cx="2123.3" cy="811.7" r="8" fill="url(#g_black)"/><circle cx="2137.9" cy="814.8" r="8" fill="url(#g_black)"/><circle cx="2152.5" cy="817.7" r="8" fill="url(#g_black)"/><circle cx="2167.1" cy="820.4" r="8" fill="url(#g_black)"/><circle cx="2181.7" cy="823.1" r="8" fill="url(#g_black)"/><polyline points="1241.5,666.4 1276.5,602.3 1311.5,533.9 1346.6,461.5 1381.6,387.3 1416.7,321.6 1451.7,269.5 1466.3,236.3 1480.9,219.5 1495.5,206.5 1510.1,197.0 1524.7,188.8 1539.3,181.4 1553.9,175.1 1568.5,170.0 1583.1,166.1 1597.7,163.2 1612.3,161.1 1626.9,159.8 1641.5,159.6 1656.1,160.2 1670.7,161.4 1685.3,163.6 1699.9,166.7 1714.5,170.5 1729.1,174.7 1743.7,179.1 1758.3,184.0 1772.9,188.9 1787.5,192.7 1802.1,196.1 1816.7,200.7 1831.3,207.2 1845.9,214.9 1860.5,223.6 1875.1,233.1 1889.7,243.2 1904.3,254.6 1918.9,267.4 1933.5,281.6 1948.1,297.4 1962.7,315.5 1977.3,337.2 1991.9,362.5 2006.5,389.3 2021.1,418.0 2035.7,448.1 2050.3,479.2 2064.9,511.2 2079.5,543.2 2094.1,574.6 2108.7,605.1 2123.3,634.1 2137.9,661.3 2152.5,685.7 2167.1,707.4 2181.7,727.4" fill="none" stroke="#FF007D" stroke-width="4.2" stroke-linejoin="round" stroke-linecap="round"/><circle cx="1241.5" cy="666.4" r="8" fill="url(#g_pink)"/><circle cx="1276.5" cy="602.3" r="8" fill="url(#g_pink)"/><circle cx="1311.5" cy="533.9" r="8" fill="url(#g_pink)"/><circle cx="1346.6" cy="461.5" r="8" fill="url(#g_pink)"/><circle cx="1381.6" cy="387.3" r="8" fill="url(#g_pink)"/><circle cx="1416.7" cy="321.6" r="8" fill="url(#g_pink)"/><circle cx="1451.7" cy="269.5" r="8" fill="url(#g_pink)"/><circle cx="1466.3" cy="236.3" r="8" fill="url(#g_pink)"/><circle cx="1480.9" cy="219.5" r="8" fill="url(#g_pink)"/><circle cx="1495.5" cy="206.5" r="8" fill="url(#g_pink)"/><circle cx="1510.1" cy="197.0" r="8" fill="url(#g_pink)"/><circle cx="1524.7" cy="188.8" r="8" fill="url(#g_pink)"/><circle cx="1539.3" cy="181.4" r="8" fill="url(#g_pink)"/><circle cx="1553.9" cy="175.1" r="8" fill="url(#g_pink)"/><circle cx="1568.5" cy="170.0" r="8" fill="url(#g_pink)"/><circle cx="1583.1" cy="166.1" r="8" fill="url(#g_pink)"/><circle cx="1597.7" cy="163.2" r="8" fill="url(#g_pink)"/><circle cx="1612.3" cy="161.1" r="8" fill="url(#g_pink)"/><circle cx="1626.9" cy="159.8" r="8" fill="url(#g_pink)"/><circle cx="1641.5" cy="159.6" r="8" fill="url(#g_pink)"/><circle cx="1656.1" cy="160.2" r="8" fill="url(#g_pink)"/><circle cx="1670.7" cy="161.4" r="8" fill="url(#g_pink)"/><circle cx="1685.3" cy="163.6" r="8" fill="url(#g_pink)"/><circle cx="1699.9" cy="166.7" r="8" fill="url(#g_pink)"/><circle cx="1714.5" cy="170.5" r="8" fill="url(#g_pink)"/><circle cx="1729.1" cy="174.7" r="8" fill="url(#g_pink)"/><circle cx="1743.7" cy="179.1" r="8" fill="url(#g_pink)"/><circle cx="1758.3" cy="184.0" r="8" fill="url(#g_pink)"/><circle cx="1772.9" cy="188.9" r="8" fill="url(#g_pink)"/><circle cx="1787.5" cy="192.7" r="8" fill="url(#g_pink)"/><circle cx="1802.1" cy="196.1" r="8" fill="url(#g_pink)"/><circle cx="1816.7" cy="200.7" r="8" fill="url(#g_pink)"/><circle cx="1831.3" cy="207.2" r="8" fill="url(#g_pink)"/><circle cx="1845.9" cy="214.9" r="8" fill="url(#g_pink)"/><circle cx="1860.5" cy="223.6" r="8" fill="url(#g_pink)"/><circle cx="1875.1" cy="233.1" r="8" fill="url(#g_pink)"/><circle cx="1889.7" cy="243.2" r="8" fill="url(#g_pink)"/><circle cx="1904.3" cy="254.6" r="8" fill="url(#g_pink)"/><circle cx="1918.9" cy="267.4" r="8" fill="url(#g_pink)"/><circle cx="1933.5" cy="281.6" r="8" fill="url(#g_pink)"/><circle cx="1948.1" cy="297.4" r="8" fill="url(#g_pink)"/><circle cx="1962.7" cy="315.5" r="8" fill="url(#g_pink)"/><circle cx="1977.3" cy="337.2" r="8" fill="url(#g_pink)"/><circle cx="1991.9" cy="362.5" r="8" fill="url(#g_pink)"/><circle cx="2006.5" cy="389.3" r="8" fill="url(#g_pink)"/><circle cx="2021.1" cy="418.0" r="8" fill="url(#g_pink)"/><circle cx="2035.7" cy="448.1" r="8" fill="url(#g_pink)"/><circle cx="2050.3" cy="479.2" r="8" fill="url(#g_pink)"/><circle cx="2064.9" cy="511.2" r="8" fill="url(#g_pink)"/><circle cx="2079.5" cy="543.2" r="8" fill="url(#g_pink)"/><circle cx="2094.1" cy="574.6" r="8" fill="url(#g_pink)"/><circle cx="2108.7" cy="605.1" r="8" fill="url(#g_pink)"/><circle cx="2123.3" cy="634.1" r="8" fill="url(#g_pink)"/><circle cx="2137.9" cy="661.3" r="8" fill="url(#g_pink)"/><circle cx="2152.5" cy="685.7" r="8" fill="url(#g_pink)"/><circle cx="2167.1" cy="707.4" r="8" fill="url(#g_pink)"/><circle cx="2181.7" cy="727.4" r="8" fill="url(#g_pink)"/><polyline points="1241.5,756.9 1276.5,744.6 1311.5,728.1 1346.6,705.8 1381.6,677.3 1416.7,645.4 1451.7,612.8 1466.3,586.7 1480.9,565.7 1495.5,545.9 1510.1,526.3 1524.7,507.2 1539.3,490.0 1553.9,472.8 1568.5,454.3 1583.1,436.1 1597.7,418.8 1612.3,402.8 1626.9,388.3 1641.5,374.7 1656.1,361.5 1670.7,349.4 1685.3,339.0 1699.9,329.3 1714.5,320.0 1729.1,312.0 1743.7,305.1 1758.3,298.6 1772.9,291.6 1787.5,284.7 1802.1,278.8 1816.7,273.9 1831.3,269.8 1845.9,266.9 1860.5,264.5 1875.1,263.2 1889.7,263.2 1904.3,264.4 1918.9,266.3 1933.5,269.0 1948.1,272.7 1962.7,277.1 1977.3,283.0 1991.9,291.6 2006.5,302.9 2021.1,316.3 2035.7,332.0 2050.3,350.8 2064.9,373.5 2079.5,398.9 2094.1,426.1 2108.7,455.4 2123.3,485.8 2137.9,514.9 2152.5,541.8 2167.1,566.3 2181.7,588.3" fill="none" stroke="#0096FF" stroke-width="4.2" stroke-linejoin="round" stroke-linecap="round"/><circle cx="1241.5" cy="756.9" r="8" fill="url(#g_blue)"/><circle cx="1276.5" cy="744.6" r="8" fill="url(#g_blue)"/><circle cx="1311.5" cy="728.1" r="8" fill="url(#g_blue)"/><circle cx="1346.6" cy="705.8" r="8" fill="url(#g_blue)"/><circle cx="1381.6" cy="677.3" r="8" fill="url(#g_blue)"/><circle cx="1416.7" cy="645.4" r="8" fill="url(#g_blue)"/><circle cx="1451.7" cy="612.8" r="8" fill="url(#g_blue)"/><circle cx="1466.3" cy="586.7" r="8" fill="url(#g_blue)"/><circle cx="1480.9" cy="565.7" r="8" fill="url(#g_blue)"/><circle cx="1495.5" cy="545.9" r="8" fill="url(#g_blue)"/><circle cx="1510.1" cy="526.3" r="8" fill="url(#g_blue)"/><circle cx="1524.7" cy="507.2" r="8" fill="url(#g_blue)"/><circle cx="1539.3" cy="490.0" r="8" fill="url(#g_blue)"/><circle cx="1553.9" cy="472.8" r="8" fill="url(#g_blue)"/><circle cx="1568.5" cy="454.3" r="8" fill="url(#g_blue)"/><circle cx="1583.1" cy="436.1" r="8" fill="url(#g_blue)"/><circle cx="1597.7" cy="418.8" r="8" fill="url(#g_blue)"/><circle cx="1612.3" cy="402.8" r="8" fill="url(#g_blue)"/><circle cx="1626.9" cy="388.3" r="8" fill="url(#g_blue)"/><circle cx="1641.5" cy="374.7" r="8" fill="url(#g_blue)"/><circle cx="1656.1" cy="361.5" r="8" fill="url(#g_blue)"/><circle cx="1670.7" cy="349.4" r="8" fill="url(#g_blue)"/><circle cx="1685.3" cy="339.0" r="8" fill="url(#g_blue)"/><circle cx="1699.9" cy="329.3" r="8" fill="url(#g_blue)"/><circle cx="1714.5" cy="320.0" r="8" fill="url(#g_blue)"/><circle cx="1729.1" cy="312.0" r="8" fill="url(#g_blue)"/><circle cx="1743.7" cy="305.1" r="8" fill="url(#g_blue)"/><circle cx="1758.3" cy="298.6" r="8" fill="url(#g_blue)"/><circle cx="1772.9" cy="291.6" r="8" fill="url(#g_blue)"/><circle cx="1787.5" cy="284.7" r="8" fill="url(#g_blue)"/><circle cx="1802.1" cy="278.8" r="8" fill="url(#g_blue)"/><circle cx="1816.7" cy="273.9" r="8" fill="url(#g_blue)"/><circle cx="1831.3" cy="269.8" r="8" fill="url(#g_blue)"/><circle cx="1845.9" cy="266.9" r="8" fill="url(#g_blue)"/><circle cx="1860.5" cy="264.5" r="8" fill="url(#g_blue)"/><circle cx="1875.1" cy="263.2" r="8" fill="url(#g_blue)"/><circle cx="1889.7" cy="263.2" r="8" fill="url(#g_blue)"/><circle cx="1904.3" cy="264.4" r="8" fill="url(#g_blue)"/><circle cx="1918.9" cy="266.3" r="8" fill="url(#g_blue)"/><circle cx="1933.5" cy="269.0" r="8" fill="url(#g_blue)"/><circle cx="1948.1" cy="272.7" r="8" fill="url(#g_blue)"/><circle cx="1962.7" cy="277.1" r="8" fill="url(#g_blue)"/><circle cx="1977.3" cy="283.0" r="8" fill="url(#g_blue)"/><circle cx="1991.9" cy="291.6" r="8" fill="url(#g_blue)"/><circle cx="2006.5" cy="302.9" r="8" fill="url(#g_blue)"/><circle cx="2021.1" cy="316.3" r="8" fill="url(#g_blue)"/><circle cx="2035.7" cy="332.0" r="8" fill="url(#g_blue)"/><circle cx="2050.3" cy="350.8" r="8" fill="url(#g_blue)"/><circle cx="2064.9" cy="373.5" r="8" fill="url(#g_blue)"/><circle cx="2079.5" cy="398.9" r="8" fill="url(#g_blue)"/><circle cx="2094.1" cy="426.1" r="8" fill="url(#g_blue)"/><circle cx="2108.7" cy="455.4" r="8" fill="url(#g_blue)"/><circle cx="2123.3" cy="485.8" r="8" fill="url(#g_blue)"/><circle cx="2137.9" cy="514.9" r="8" fill="url(#g_blue)"/><circle cx="2152.5" cy="541.8" r="8" fill="url(#g_blue)"/><circle cx="2167.1" cy="566.3" r="8" fill="url(#g_blue)"/><circle cx="2181.7" cy="588.3" r="8" fill="url(#g_blue)"/><polyline points="1241.5,583.6 1276.5,516.4 1311.5,451.2 1346.6,393.0 1381.6,338.8 1416.7,293.0 1451.7,256.8 1466.3,227.4 1480.9,219.4 1495.5,213.9 1510.1,211.2 1524.7,209.9 1539.3,209.0 1553.9,208.9 1568.5,209.9 1583.1,212.3 1597.7,215.7 1612.3,219.6 1626.9,224.1 1641.5,229.4 1656.1,235.5 1670.7,242.2 1685.3,249.3 1699.9,256.3 1714.5,263.1 1729.1,269.9 1743.7,276.5 1758.3,282.3 1772.9,287.0 1787.5,290.7 1802.1,293.1 1816.7,294.3 1831.3,295.2 1845.9,296.6 1860.5,298.7 1875.1,301.2 1889.7,304.0 1904.3,307.3 1918.9,311.2 1933.5,316.4 1948.1,323.4 1962.7,332.1 1977.3,341.9 1991.9,353.7 2006.5,369.0 2021.1,387.7 2035.7,409.5 2050.3,434.0 2064.9,460.7 2079.5,489.0 2094.1,518.5 2108.7,547.9 2123.3,576.4 2137.9,604.2 2152.5,631.3 2167.1,656.5 2181.7,680.1" fill="none" stroke="#FF7A00" stroke-width="4.2" stroke-linejoin="round" stroke-linecap="round"/><circle cx="1241.5" cy="583.6" r="8" fill="url(#g_orange)"/><circle cx="1276.5" cy="516.4" r="8" fill="url(#g_orange)"/><circle cx="1311.5" cy="451.2" r="8" fill="url(#g_orange)"/><circle cx="1346.6" cy="393.0" r="8" fill="url(#g_orange)"/><circle cx="1381.6" cy="338.8" r="8" fill="url(#g_orange)"/><circle cx="1416.7" cy="293.0" r="8" fill="url(#g_orange)"/><circle cx="1451.7" cy="256.8" r="8" fill="url(#g_orange)"/><circle cx="1466.3" cy="227.4" r="8" fill="url(#g_orange)"/><circle cx="1480.9" cy="219.4" r="8" fill="url(#g_orange)"/><circle cx="1495.5" cy="213.9" r="8" fill="url(#g_orange)"/><circle cx="1510.1" cy="211.2" r="8" fill="url(#g_orange)"/><circle cx="1524.7" cy="209.9" r="8" fill="url(#g_orange)"/><circle cx="1539.3" cy="209.0" r="8" fill="url(#g_orange)"/><circle cx="1553.9" cy="208.9" r="8" fill="url(#g_orange)"/><circle cx="1568.5" cy="209.9" r="8" fill="url(#g_orange)"/><circle cx="1583.1" cy="212.3" r="8" fill="url(#g_orange)"/><circle cx="1597.7" cy="215.7" r="8" fill="url(#g_orange)"/><circle cx="1612.3" cy="219.6" r="8" fill="url(#g_orange)"/><circle cx="1626.9" cy="224.1" r="8" fill="url(#g_orange)"/><circle cx="1641.5" cy="229.4" r="8" fill="url(#g_orange)"/><circle cx="1656.1" cy="235.5" r="8" fill="url(#g_orange)"/><circle cx="1670.7" cy="242.2" r="8" fill="url(#g_orange)"/><circle cx="1685.3" cy="249.3" r="8" fill="url(#g_orange)"/><circle cx="1699.9" cy="256.3" r="8" fill="url(#g_orange)"/><circle cx="1714.5" cy="263.1" r="8" fill="url(#g_orange)"/><circle cx="1729.1" cy="269.9" r="8" fill="url(#g_orange)"/><circle cx="1743.7" cy="276.5" r="8" fill="url(#g_orange)"/><circle cx="1758.3" cy="282.3" r="8" fill="url(#g_orange)"/><circle cx="1772.9" cy="287.0" r="8" fill="url(#g_orange)"/><circle cx="1787.5" cy="290.7" r="8" fill="url(#g_orange)"/><circle cx="1802.1" cy="293.1" r="8" fill="url(#g_orange)"/><circle cx="1816.7" cy="294.3" r="8" fill="url(#g_orange)"/><circle cx="1831.3" cy="295.2" r="8" fill="url(#g_orange)"/><circle cx="1845.9" cy="296.6" r="8" fill="url(#g_orange)"/><circle cx="1860.5" cy="298.7" r="8" fill="url(#g_orange)"/><circle cx="1875.1" cy="301.2" r="8" fill="url(#g_orange)"/><circle cx="1889.7" cy="304.0" r="8" fill="url(#g_orange)"/><circle cx="1904.3" cy="307.3" r="8" fill="url(#g_orange)"/><circle cx="1918.9" cy="311.2" r="8" fill="url(#g_orange)"/><circle cx="1933.5" cy="316.4" r="8" fill="url(#g_orange)"/><circle cx="1948.1" cy="323.4" r="8" fill="url(#g_orange)"/><circle cx="1962.7" cy="332.1" r="8" fill="url(#g_orange)"/><circle cx="1977.3" cy="341.9" r="8" fill="url(#g_orange)"/><circle cx="1991.9" cy="353.7" r="8" fill="url(#g_orange)"/><circle cx="2006.5" cy="369.0" r="8" fill="url(#g_orange)"/><circle cx="2021.1" cy="387.7" r="8" fill="url(#g_orange)"/><circle cx="2035.7" cy="409.5" r="8" fill="url(#g_orange)"/><circle cx="2050.3" cy="434.0" r="8" fill="url(#g_orange)"/><circle cx="2064.9" cy="460.7" r="8" fill="url(#g_orange)"/><circle cx="2079.5" cy="489.0" r="8" fill="url(#g_orange)"/><circle cx="2094.1" cy="518.5" r="8" fill="url(#g_orange)"/><circle cx="2108.7" cy="547.9" r="8" fill="url(#g_orange)"/><circle cx="2123.3" cy="576.4" r="8" fill="url(#g_orange)"/><circle cx="2137.9" cy="604.2" r="8" fill="url(#g_orange)"/><circle cx="2152.5" cy="631.3" r="8" fill="url(#g_orange)"/><circle cx="2167.1" cy="656.5" r="8" fill="url(#g_orange)"/><circle cx="2181.7" cy="680.1" r="8" fill="url(#g_orange)"/><polyline points="1241.5,442.5 1276.5,364.5 1311.5,296.0 1346.6,242.2 1381.6,202.9 1416.7,173.1 1451.7,152.9 1466.3,143.2 1480.9,139.6 1495.5,137.7 1510.1,136.9 1524.7,136.3 1539.3,136.0 1553.9,135.9 1568.5,136.0 1583.1,136.2 1597.7,136.4 1612.3,136.9 1626.9,137.7 1641.5,139.0 1656.1,140.9 1670.7,143.3 1685.3,146.4 1699.9,150.5 1714.5,155.3 1729.1,161.0 1743.7,168.0 1758.3,175.7 1772.9,184.3 1787.5,194.8 1802.1,206.6 1816.7,220.4 1831.3,237.2 1845.9,256.1 1860.5,277.8 1875.1,303.0 1889.7,331.5 1904.3,363.2 1918.9,397.0 1933.5,432.5 1948.1,469.2 1962.7,507.0 1977.3,544.8 1991.9,580.4 2006.5,613.3 2021.1,644.2 2035.7,672.1 2050.3,696.3 2064.9,718.0 2079.5,737.0 2094.1,753.0 2108.7,767.0 2123.3,779.0 2137.9,789.3 2152.5,798.1 2167.1,805.3 2181.7,811.1" fill="none" stroke="#7B00FF" stroke-width="4.2" stroke-linejoin="round" stroke-linecap="round"/><circle cx="1241.5" cy="442.5" r="8" fill="url(#g_purple)"/><circle cx="1276.5" cy="364.5" r="8" fill="url(#g_purple)"/><circle cx="1311.5" cy="296.0" r="8" fill="url(#g_purple)"/><circle cx="1346.6" cy="242.2" r="8" fill="url(#g_purple)"/><circle cx="1381.6" cy="202.9" r="8" fill="url(#g_purple)"/><circle cx="1416.7" cy="173.1" r="8" fill="url(#g_purple)"/><circle cx="1451.7" cy="152.9" r="8" fill="url(#g_purple)"/><circle cx="1466.3" cy="143.2" r="8" fill="url(#g_purple)"/><circle cx="1480.9" cy="139.6" r="8" fill="url(#g_purple)"/><circle cx="1495.5" cy="137.7" r="8" fill="url(#g_purple)"/><circle cx="1510.1" cy="136.9" r="8" fill="url(#g_purple)"/><circle cx="1524.7" cy="136.3" r="8" fill="url(#g_purple)"/><circle cx="1539.3" cy="136.0" r="8" fill="url(#g_purple)"/><circle cx="1553.9" cy="135.9" r="8" fill="url(#g_purple)"/><circle cx="1568.5" cy="136.0" r="8" fill="url(#g_purple)"/><circle cx="1583.1" cy="136.2" r="8" fill="url(#g_purple)"/><circle cx="1597.7" cy="136.4" r="8" fill="url(#g_purple)"/><circle cx="1612.3" cy="136.9" r="8" fill="url(#g_purple)"/><circle cx="1626.9" cy="137.7" r="8" fill="url(#g_purple)"/><circle cx="1641.5" cy="139.0" r="8" fill="url(#g_purple)"/><circle cx="1656.1" cy="140.9" r="8" fill="url(#g_purple)"/><circle cx="1670.7" cy="143.3" r="8" fill="url(#g_purple)"/><circle cx="1685.3" cy="146.4" r="8" fill="url(#g_purple)"/><circle cx="1699.9" cy="150.5" r="8" fill="url(#g_purple)"/><circle cx="1714.5" cy="155.3" r="8" fill="url(#g_purple)"/><circle cx="1729.1" cy="161.0" r="8" fill="url(#g_purple)"/><circle cx="1743.7" cy="168.0" r="8" fill="url(#g_purple)"/><circle cx="1758.3" cy="175.7" r="8" fill="url(#g_purple)"/><circle cx="1772.9" cy="184.3" r="8" fill="url(#g_purple)"/><circle cx="1787.5" cy="194.8" r="8" fill="url(#g_purple)"/><circle cx="1802.1" cy="206.6" r="8" fill="url(#g_purple)"/><circle cx="1816.7" cy="220.4" r="8" fill="url(#g_purple)"/><circle cx="1831.3" cy="237.2" r="8" fill="url(#g_purple)"/><circle cx="1845.9" cy="256.1" r="8" fill="url(#g_purple)"/><circle cx="1860.5" cy="277.8" r="8" fill="url(#g_purple)"/><circle cx="1875.1" cy="303.0" r="8" fill="url(#g_purple)"/><circle cx="1889.7" cy="331.5" r="8" fill="url(#g_purple)"/><circle cx="1904.3" cy="363.2" r="8" fill="url(#g_purple)"/><circle cx="1918.9" cy="397.0" r="8" fill="url(#g_purple)"/><circle cx="1933.5" cy="432.5" r="8" fill="url(#g_purple)"/><circle cx="1948.1" cy="469.2" r="8" fill="url(#g_purple)"/><circle cx="1962.7" cy="507.0" r="8" fill="url(#g_purple)"/><circle cx="1977.3" cy="544.8" r="8" fill="url(#g_purple)"/><circle cx="1991.9" cy="580.4" r="8" fill="url(#g_purple)"/><circle cx="2006.5" cy="613.3" r="8" fill="url(#g_purple)"/><circle cx="2021.1" cy="644.2" r="8" fill="url(#g_purple)"/><circle cx="2035.7" cy="672.1" r="8" fill="url(#g_purple)"/><circle cx="2050.3" cy="696.3" r="8" fill="url(#g_purple)"/><circle cx="2064.9" cy="718.0" r="8" fill="url(#g_purple)"/><circle cx="2079.5" cy="737.0" r="8" fill="url(#g_purple)"/><circle cx="2094.1" cy="753.0" r="8" fill="url(#g_purple)"/><circle cx="2108.7" cy="767.0" r="8" fill="url(#g_purple)"/><circle cx="2123.3" cy="779.0" r="8" fill="url(#g_purple)"/><circle cx="2137.9" cy="789.3" r="8" fill="url(#g_purple)"/><circle cx="2152.5" cy="798.1" r="8" fill="url(#g_purple)"/><circle cx="2167.1" cy="805.3" r="8" fill="url(#g_purple)"/><circle cx="2181.7" cy="811.1" r="8" fill="url(#g_purple)"/><polyline points="1241.5,764.6 1276.5,750.1 1311.5,738.9 1346.6,725.5 1381.6,704.4 1416.7,678.6 1451.7,648.0 1466.3,622.0 1480.9,599.4 1495.5,573.6 1510.1,545.4 1524.7,516.4 1539.3,486.2 1553.9,455.6 1568.5,425.7 1583.1,396.3 1597.7,368.1 1612.3,341.3 1626.9,315.4 1641.5,291.6 1656.1,271.1 1670.7,253.7 1685.3,238.6 1699.9,225.5 1714.5,214.4 1729.1,205.8 1743.7,199.4 1758.3,194.6 1772.9,190.8 1787.5,187.7 1802.1,185.6 1816.7,184.8 1831.3,186.0 1845.9,189.6 1860.5,194.5 1875.1,200.5 1889.7,208.3 1904.3,217.9 1918.9,229.2 1933.5,242.7 1948.1,258.7 1962.7,277.4 1977.3,298.9 1991.9,323.2 2006.5,351.0 2021.1,382.1 2035.7,415.5 2050.3,450.6 2064.9,486.2 2079.5,521.3 2094.1,556.3 2108.7,590.5 2123.3,622.1 2137.9,651.0 2152.5,678.0 2167.1,702.4 2181.7,724.3" fill="none" stroke="#000000" stroke-width="4.2" stroke-linejoin="round" stroke-linecap="round"/><circle cx="1241.5" cy="764.6" r="8" fill="url(#g_black)"/><circle cx="1276.5" cy="750.1" r="8" fill="url(#g_black)"/><circle cx="1311.5" cy="738.9" r="8" fill="url(#g_black)"/><circle cx="1346.6" cy="725.5" r="8" fill="url(#g_black)"/><circle cx="1381.6" cy="704.4" r="8" fill="url(#g_black)"/><circle cx="1416.7" cy="678.6" r="8" fill="url(#g_black)"/><circle cx="1451.7" cy="648.0" r="8" fill="url(#g_black)"/><circle cx="1466.3" cy="622.0" r="8" fill="url(#g_black)"/><circle cx="1480.9" cy="599.4" r="8" fill="url(#g_black)"/><circle cx="1495.5" cy="573.6" r="8" fill="url(#g_black)"/><circle cx="1510.1" cy="545.4" r="8" fill="url(#g_black)"/><circle cx="1524.7" cy="516.4" r="8" fill="url(#g_black)"/><circle cx="1539.3" cy="486.2" r="8" fill="url(#g_black)"/><circle cx="1553.9" cy="455.6" r="8" fill="url(#g_black)"/><circle cx="1568.5" cy="425.7" r="8" fill="url(#g_black)"/><circle cx="1583.1" cy="396.3" r="8" fill="url(#g_black)"/><circle cx="1597.7" cy="368.1" r="8" fill="url(#g_black)"/><circle cx="1612.3" cy="341.3" r="8" fill="url(#g_black)"/><circle cx="1626.9" cy="315.4" r="8" fill="url(#g_black)"/><circle cx="1641.5" cy="291.6" r="8" fill="url(#g_black)"/><circle cx="1656.1" cy="271.1" r="8" fill="url(#g_black)"/><circle cx="1670.7" cy="253.7" r="8" fill="url(#g_black)"/><circle cx="1685.3" cy="238.6" r="8" fill="url(#g_black)"/><circle cx="1699.9" cy="225.5" r="8" fill="url(#g_black)"/><circle cx="1714.5" cy="214.4" r="8" fill="url(#g_black)"/><circle cx="1729.1" cy="205.8" r="8" fill="url(#g_black)"/><circle cx="1743.7" cy="199.4" r="8" fill="url(#g_black)"/><circle cx="1758.3" cy="194.6" r="8" fill="url(#g_black)"/><circle cx="1772.9" cy="190.8" r="8" fill="url(#g_black)"/><circle cx="1787.5" cy="187.7" r="8" fill="url(#g_black)"/><circle cx="1802.1" cy="185.6" r="8" fill="url(#g_black)"/><circle cx="1816.7" cy="184.8" r="8" fill="url(#g_black)"/><circle cx="1831.3" cy="186.0" r="8" fill="url(#g_black)"/><circle cx="1845.9" cy="189.6" r="8" fill="url(#g_black)"/><circle cx="1860.5" cy="194.5" r="8" fill="url(#g_black)"/><circle cx="1875.1" cy="200.5" r="8" fill="url(#g_black)"/><circle cx="1889.7" cy="208.3" r="8" fill="url(#g_black)"/><circle cx="1904.3" cy="217.9" r="8" fill="url(#g_black)"/><circle cx="1918.9" cy="229.2" r="8" fill="url(#g_black)"/><circle cx="1933.5" cy="242.7" r="8" fill="url(#g_black)"/><circle cx="1948.1" cy="258.7" r="8" fill="url(#g_black)"/><circle cx="1962.7" cy="277.4" r="8" fill="url(#g_black)"/><circle cx="1977.3" cy="298.9" r="8" fill="url(#g_black)"/><circle cx="1991.9" cy="323.2" r="8" fill="url(#g_black)"/><circle cx="2006.5" cy="351.0" r="8" fill="url(#g_black)"/><circle cx="2021.1" cy="382.1" r="8" fill="url(#g_black)"/><circle cx="2035.7" cy="415.5" r="8" fill="url(#g_black)"/><circle cx="2050.3" cy="450.6" r="8" fill="url(#g_black)"/><circle cx="2064.9" cy="486.2" r="8" fill="url(#g_black)"/><circle cx="2079.5" cy="521.3" r="8" fill="url(#g_black)"/><circle cx="2094.1" cy="556.3" r="8" fill="url(#g_black)"/><circle cx="2108.7" cy="590.5" r="8" fill="url(#g_black)"/><circle cx="2123.3" cy="622.1" r="8" fill="url(#g_black)"/><circle cx="2137.9" cy="651.0" r="8" fill="url(#g_black)"/><circle cx="2152.5" cy="678.0" r="8" fill="url(#g_black)"/><circle cx="2167.1" cy="702.4" r="8" fill="url(#g_black)"/><circle cx="2181.7" cy="724.3" r="8" fill="url(#g_black)"/></g><rect x="1243.0" y="96.5" width="945.5" height="762.0" fill="none" stroke="#000" stroke-width="4.7"/><path d="M1277.8,858.5 V843.5 M1365.4,858.5 V850.5 M1453.0,858.5 V843.5 M1540.6,858.5 V850.5 M1628.2,858.5 V843.5 M1715.8,858.5 V850.5 M1803.4,858.5 V843.5 M1891.0,858.5 V850.5 M1978.6,858.5 V843.5 M2066.2,858.5 V850.5 M2153.8,858.5 V843.5 M1243.0,773.1 H1251.0 M1243.0,688.6 H1258.0 M1243.0,604.1 H1251.0 M1243.0,519.6 H1258.0 M1243.0,435.1 H1251.0 M1243.0,350.6 H1258.0 M1243.0,266.1 H1251.0 M1243.0,181.6 H1258.0 M2188.5,768.7 H2180.5 M2188.5,679.1 H2173.5 M2188.5,589.5 H2180.5 M2188.5,499.9 H2173.5 M2188.5,410.3 H2180.5 M2188.5,320.7 H2173.5 M2188.5,231.1 H2180.5 M2188.5,141.5 H2173.5" stroke="#000" stroke-width="5" fill="none"/><line x1="1507" y1="603.9" x2="1605" y2="603.9" stroke="#000000" stroke-width="5"/><circle cx="1556.0" cy="603.9" r="8" fill="url(#g_black)"/><line x1="1507" y1="656.5" x2="1605" y2="656.5" stroke="#0096FF" stroke-width="5"/><circle cx="1556.0" cy="656.5" r="8" fill="url(#g_blue)"/><line x1="1507" y1="709.4" x2="1605" y2="709.4" stroke="#FF007D" stroke-width="5"/><circle cx="1556.0" cy="709.4" r="8" fill="url(#g_pink)"/><line x1="1507" y1="761.5" x2="1605" y2="761.5" stroke="#FF7A00" stroke-width="5"/><circle cx="1556.0" cy="761.5" r="8" fill="url(#g_orange)"/><line x1="1507" y1="814.0" x2="1605" y2="814.0" stroke="#7B00FF" stroke-width="5"/><circle cx="1556.0" cy="814.0" r="8" fill="url(#g_purple)"/><text font-family="'Liberation Serif', serif" font-weight="bold" font-size="100" transform="translate(46.93,69.60) scale(0.9256,0.8619)"><tspan>(a)</tspan></text><text font-family="'Liberation Serif', serif" font-weight="bold" font-size="100" transform="translate(1108.42,69.44) scale(0.9066,0.8696)"><tspan>(b)</tspan></text><text font-family="'Liberation Serif', serif" font-weight="bold" font-size="100" transform="translate(424.35,1004.86) scale(0.6773,0.7227)"><tspan>Z' </tspan><tspan font-size="114.00">(</tspan><tspan>KΩ·cm</tspan><tspan font-size="64.00" dy="-37.00">2</tspan><tspan font-size="114.00" dy="37.00">)</tspan></text><text font-family="'Liberation Serif', serif" font-weight="bold" font-size="100" transform="translate(75.93,721.84) scale(0.7053,0.7243) rotate(-90)"><tspan>-Z'' </tspan><tspan font-size="112.00">(</tspan><tspan>KΩ·cm</tspan><tspan font-size="66.00" dy="-46.70">2</tspan><tspan font-size="112.00" dy="46.70">)</tspan></text><text font-family="'Liberation Serif', serif" font-weight="bold" font-size="100" transform="translate(1459.87,991.54) scale(0.7171,0.7027)"><tspan>logFrequency </tspan><tspan>(Hz)</tspan></text><text font-family="'Liberation Serif', serif" font-weight="bold" font-size="100" transform="translate(1175.62,697.55) scale(0.7076,0.7260) rotate(-90)"><tspan>log|Z| </tspan><tspan font-size="112.00">(</tspan><tspan>Ω·cm</tspan><tspan font-size="58.00" dy="-50.00">2</tspan><tspan font-size="112.00" dy="50.00">)</tspan></text><text font-family="'Liberation Serif', serif" font-weight="bold" font-size="100" transform="translate(2333.22,810.62) scale(0.6765,0.7191) rotate(-90)"><tspan>-Phase angle </tspan><tspan font-size="93.00" dy="-4.00">(</tspan><tspan dy="4.00">Degree</tspan><tspan font-size="93.00" dy="-4.00">)</tspan></text><text font-family="'Liberation Serif', serif" font-weight="bold" font-size="100" transform="translate(387.79,525.88) scale(0.2903,0.2949)"><tspan>Z' </tspan><tspan font-size="120.00">(</tspan><tspan>KΩ·cm</tspan><tspan font-size="65.50" dy="-39.00">2</tspan><tspan font-size="120.00" dy="39.00">)</tspan></text><text font-family="'Liberation Serif', serif" font-weight="bold" font-size="100" transform="translate(225.01,390.78) scale(0.3174,0.3099) rotate(-90)"><tspan>-Z'' </tspan><tspan font-size="120.00">(</tspan><tspan>KΩ·cm</tspan><tspan font-size="65.50" dy="-40.00">2</tspan><tspan font-size="120.00" dy="40.00">)</tspan></text><text font-family="'Liberation Serif', serif" font-weight="bold" font-size="100" transform="translate(152.52,929.43) scale(0.6130,0.6667)">0</text><text font-family="'Liberation Serif', serif" font-weight="bold" font-size="100" transform="translate(316.22,929.10) scale(0.6130,0.6667)">5</text><text font-family="'Liberation Serif', serif" font-weight="bold" font-size="100" transform="translate(463.37,929.43) scale(0.6130,0.6667)">10</text><text font-family="'Liberation Serif', serif" font-weight="bold" font-size="100" transform="translate(627.07,929.27) scale(0.6130,0.6667)">15</text><text font-family="'Liberation Serif', serif" font-weight="bold" font-size="100" transform="translate(792.00,929.43) scale(0.6130,0.6667)">20</text><text font-family="'Liberation Serif', serif" font-weight="bold" font-size="100" transform="translate(955.70,929.43) scale(0.6130,0.6667)">25</text><text font-family="'Liberation Serif', serif" font-weight="bold" font-size="100" transform="translate(122.10,739.35) scale(0.6130,0.6667)">5</text><text font-family="'Liberation Serif', serif" font-weight="bold" font-size="100" transform="translate(91.45,598.03) scale(0.6130,0.6667)">10</text><text font-family="'Liberation Serif', serif" font-weight="bold" font-size="100" transform="translate(91.45,456.22) scale(0.6130,0.6667)">15</text><text font-family="'Liberation Serif', serif" font-weight="bold" font-size="100" transform="translate(91.45,314.73) scale(0.6130,0.6667)">20</text><text font-family="'Liberation Serif', serif" font-weight="bold" font-size="100" transform="translate(91.45,173.08) scale(0.6130,0.6667)">25</text><text font-family="'Liberation Serif', serif" font-weight="bold" font-size="100" transform="translate(1251.82,925.70) scale(0.6130,0.6667)">-1</text><text font-family="'Liberation Serif', serif" font-weight="bold" font-size="100" transform="translate(1437.52,925.53) scale(0.6130,0.6667)">0</text><text font-family="'Liberation Serif', serif" font-weight="bold" font-size="100" transform="translate(1611.96,925.70) scale(0.6130,0.6667)">1</text><text font-family="'Liberation Serif', serif" font-weight="bold" font-size="100" transform="translate(1788.08,925.87) scale(0.6130,0.6667)">2</text><text font-family="'Liberation Serif', serif" font-weight="bold" font-size="100" transform="translate(1963.28,925.53) scale(0.6130,0.6667)">3</text><text font-family="'Liberation Serif', serif" font-weight="bold" font-size="100" transform="translate(2138.63,925.70) scale(0.6130,0.6667)">4</text><text font-family="'Liberation Serif', serif" font-weight="bold" font-size="100" transform="translate(1195.70,876.63) scale(0.6130,0.6667)">0</text><text font-family="'Liberation Serif', serif" font-weight="bold" font-size="100" transform="translate(1196.62,707.80) scale(0.6130,0.6667)">1</text><text font-family="'Liberation Serif', serif" font-weight="bold" font-size="100" transform="translate(1196.00,538.97) scale(0.6130,0.6667)">2</text><text font-family="'Liberation Serif', serif" font-weight="bold" font-size="100" transform="translate(1195.70,369.63) scale(0.6130,0.6667)">3</text><text font-family="'Liberation Serif', serif" font-weight="bold" font-size="100" transform="translate(1194.78,200.80) scale(0.6130,0.6667)">4</text><text font-family="'Liberation Serif', serif" font-weight="bold" font-size="100" transform="translate(2204.20,878.53) scale(0.6498,0.6667)">0</text><text font-family="'Liberation Serif', serif" font-weight="bold" font-size="100" transform="translate(2204.20,699.33) scale(0.6498,0.6667)">20</text><text font-family="'Liberation Serif', serif" font-weight="bold" font-size="100" transform="translate(2205.83,520.13) scale(0.6498,0.6667)">40</text><text font-family="'Liberation Serif', serif" font-weight="bold" font-size="100" transform="translate(2204.53,340.93) scale(0.6498,0.6667)">60</text><text font-family="'Liberation Serif', serif" font-weight="bold" font-size="100" transform="translate(2204.53,161.73) scale(0.6498,0.6667)">80</text><text font-family="'Liberation Serif', serif" font-weight="bold" font-size="100" transform="translate(260.69,490.92) scale(0.2520,0.2868)">0.0</text><text font-family="'Liberation Serif', serif" font-weight="bold" font-size="100" transform="translate(356.79,490.92) scale(0.2520,0.2868)">0.5</text><text font-family="'Liberation Serif', serif" font-weight="bold" font-size="100" transform="translate(452.38,490.92) scale(0.2520,0.2868)">1.0</text><text font-family="'Liberation Serif', serif" font-weight="bold" font-size="100" transform="translate(548.48,490.85) scale(0.2520,0.2868)">1.5</text><text font-family="'Liberation Serif', serif" font-weight="bold" font-size="100" transform="translate(645.09,490.92) scale(0.2520,0.2868)">2.0</text><text font-family="'Liberation Serif', serif" font-weight="bold" font-size="100" transform="translate(238.18,387.22) scale(0.2520,0.2868)">0.5</text><text font-family="'Liberation Serif', serif" font-weight="bold" font-size="100" transform="translate(238.18,304.32) scale(0.2520,0.2868)">1.0</text><text font-family="'Liberation Serif', serif" font-weight="bold" font-size="100" transform="translate(238.18,221.35) scale(0.2520,0.2868)">1.5</text><text font-family="'Liberation Serif', serif" font-weight="bold" font-size="100" transform="translate(238.18,138.52) scale(0.2520,0.2868)">2.0</text><text font-family="'Liberation Serif', serif" font-weight="bold" font-size="100" transform="translate(813.15,171.00) scale(0.4996,0.5557)">Blank</text><text font-family="'Liberation Serif', serif" font-weight="bold" font-size="100" transform="translate(1613.78,617.90) scale(0.4165,0.4214)">Blank</text><text font-family="'Liberation Serif', serif" font-weight="bold" font-size="100" transform="translate(811.87,238.40) scale(0.5080,0.5557)">50 mg/L</text><text font-family="'Liberation Serif', serif" font-weight="bold" font-size="100" transform="translate(1613.32,670.40) scale(0.4192,0.4214)">50 mg/L</text><text font-family="'Liberation Serif', serif" font-weight="bold" font-size="100" transform="translate(811.53,305.80) scale(0.5083,0.5557)">100 mg/L</text><text font-family="'Liberation Serif', serif" font-weight="bold" font-size="100" transform="translate(1612.20,722.90) scale(0.4254,0.4214)">100 mg/L</text><text font-family="'Liberation Serif', serif" font-weight="bold" font-size="100" transform="translate(811.53,373.20) scale(0.5083,0.5557)">150 mg/L</text><text font-family="'Liberation Serif', serif" font-weight="bold" font-size="100" transform="translate(1612.20,775.40) scale(0.4254,0.4214)">150 mg/L</text><text font-family="'Liberation Serif', serif" font-weight="bold" font-size="100" transform="translate(812.58,440.60) scale(0.5057,0.5557)">200 mg/L</text><text font-family="'Liberation Serif', serif" font-weight="bold" font-size="100" transform="translate(1613.31,827.90) scale(0.4226,0.4214)">200 mg/L</text></svg></body></html>
